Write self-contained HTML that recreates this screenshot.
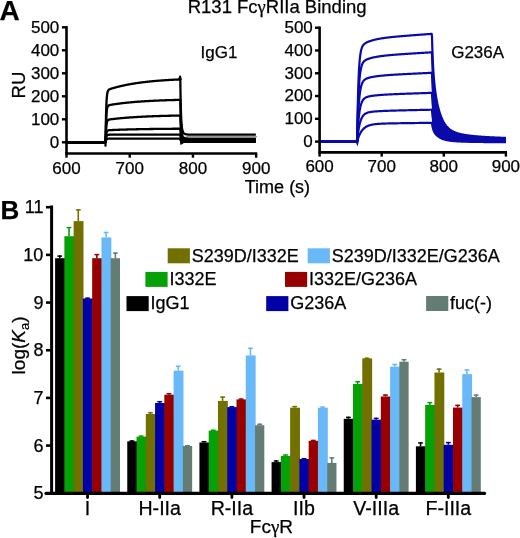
<!DOCTYPE html>
<html><head><meta charset="utf-8"><style>
html,body{margin:0;padding:0;background:#fff;}
svg{display:block;will-change:transform;}
text{font-family:"Liberation Sans", sans-serif;stroke:#000;stroke-width:0.25px;}
</style></head><body>
<svg width="520" height="538" viewBox="0 0 520 538">
<rect width="520" height="538" fill="#fff"/>

<text x="-0.5" y="19.6" font-size="28" font-weight="bold">A</text>
<text x="0.4" y="218.5" font-size="26" font-weight="bold">B</text>
<g font-size="17">
<text x="187.7" y="13.4" font-size="18.5">R131 Fc<tspan font-family="Liberation Serif">&#947;</tspan>RIIa Binding</text>
<text x="244.8" y="192.6" font-size="18">Time (s)</text>
<text x="200.6" y="57.5">IgG1</text>
<text x="451.2" y="57.6">G236A</text>
<text transform="translate(25,85) rotate(-90)" text-anchor="middle" font-size="18.6">RU</text>
<text x="59.3" y="147.6" text-anchor="end">0</text>
<text x="59.3" y="124.6" text-anchor="end">100</text>
<text x="59.3" y="101.6" text-anchor="end">200</text>
<text x="59.3" y="78.6" text-anchor="end">300</text>
<text x="59.3" y="55.6" text-anchor="end">400</text>
<text x="59.3" y="32.6" text-anchor="end">500</text>
<text x="66.5" y="173.8" text-anchor="middle">600</text>
<text x="129.72" y="173.8" text-anchor="middle">700</text>
<text x="192.94" y="173.8" text-anchor="middle">800</text>
<text x="256.16" y="173.8" text-anchor="middle">900</text>
<text x="312.8" y="146.9" text-anchor="end">0</text>
<text x="312.8" y="124.12" text-anchor="end">100</text>
<text x="312.8" y="101.34" text-anchor="end">200</text>
<text x="312.8" y="78.56" text-anchor="end">300</text>
<text x="312.8" y="55.78" text-anchor="end">400</text>
<text x="312.8" y="33" text-anchor="end">500</text>
<text x="319.6" y="172.3" text-anchor="middle">600</text>
<text x="381.7" y="172.3" text-anchor="middle">700</text>
<text x="443.8" y="172.3" text-anchor="middle">800</text>
<text x="505.9" y="172.3" text-anchor="middle">900</text>
</g>
<path d="M66.5,142.3 L66.82,142.3 L67.13,142.3 L67.45,142.3 L67.76,142.3 L68.08,142.3 L68.4,142.3 L68.71,142.3 L69.03,142.3 L69.34,142.3 L69.66,142.3 L69.98,142.3 L70.29,142.3 L70.61,142.3 L70.93,142.3 L71.24,142.3 L71.56,142.3 L71.87,142.3 L72.19,142.3 L72.51,142.3 L72.82,142.3 L73.14,142.3 L73.45,142.3 L73.77,142.3 L74.09,142.3 L74.4,142.3 L74.72,142.3 L75.03,142.3 L75.35,142.3 L75.67,142.3 L75.98,142.3 L76.3,142.3 L76.62,142.3 L76.93,142.3 L77.25,142.3 L77.56,142.3 L77.88,142.3 L78.2,142.3 L78.51,142.3 L78.83,142.3 L79.14,142.3 L79.46,142.3 L79.78,142.3 L80.09,142.3 L80.41,142.3 L80.72,142.3 L81.04,142.3 L81.36,142.3 L81.67,142.3 L81.99,142.3 L82.31,142.3 L82.62,142.3 L82.94,142.3 L83.25,142.3 L83.57,142.3 L83.89,142.3 L84.2,142.3 L84.52,142.3 L84.83,142.3 L85.15,142.3 L85.47,142.3 L85.78,142.3 L86.1,142.3 L86.41,142.3 L86.73,142.3 L87.05,142.3 L87.36,142.3 L87.68,142.3 L87.99,142.3 L88.31,142.3 L88.63,142.3 L88.94,142.3 L89.26,142.3 L89.58,142.3 L89.89,142.3 L90.21,142.3 L90.52,142.3 L90.84,142.3 L91.16,142.3 L91.47,142.3 L91.79,142.3 L92.1,142.3 L92.42,142.3 L92.74,142.3 L93.05,142.3 L93.37,142.3 L93.68,142.3 L94,142.3 L94.32,142.3 L94.63,142.3 L94.95,142.3 L95.27,142.3 L95.58,142.3 L95.9,142.3 L96.21,142.3 L96.53,142.3 L96.85,142.3 L97.16,142.3 L97.48,142.3 L97.79,142.3 L98.11,142.3 L98.43,142.3 L98.74,142.3 L99.06,142.3 L99.37,142.3 L99.69,142.3 L100.01,142.3 L100.32,142.3 L100.64,142.3 L100.95,142.3 L101.27,142.3 L101.59,142.3 L101.9,142.3 L102.22,142.3 L102.54,142.3 L102.85,142.3 L103.17,142.3 L103.48,142.3 L103.8,142.3 L104.12,142.3 L104.43,142.3 L104.75,142.3 L105.06,142.3 L105.38,142.3 L105.7,132.87 L106.01,116.09 L106.33,105.87 L106.64,99.62 L106.96,95.79 L107.28,93.43 L107.59,91.95 L107.91,91.01 L108.23,90.4 L108.54,89.99 L108.86,89.71 L109.17,89.49 L109.49,89.32 L109.81,89.18 L110.12,89.05 L110.44,88.94 L110.75,88.83 L111.07,88.72 L111.39,88.62 L111.7,88.53 L112.02,88.43 L112.33,88.34 L112.65,88.24 L112.97,88.15 L113.28,88.06 L113.6,87.97 L113.91,87.87 L114.23,87.79 L114.55,87.7 L114.86,87.61 L115.18,87.52 L115.5,87.44 L115.81,87.35 L116.13,87.27 L116.44,87.18 L116.76,87.1 L117.08,87.02 L117.39,86.93 L117.71,86.85 L118.02,86.77 L118.34,86.69 L118.66,86.62 L118.97,86.54 L119.29,86.46 L119.6,86.38 L119.92,86.31 L120.24,86.23 L120.55,86.16 L120.87,86.08 L121.19,86.01 L121.5,85.94 L121.82,85.87 L122.13,85.79 L122.45,85.72 L122.77,85.65 L123.08,85.58 L123.4,85.51 L123.71,85.45 L124.03,85.38 L124.35,85.31 L124.66,85.25 L124.98,85.18 L125.29,85.11 L125.61,85.05 L125.93,84.99 L126.24,84.92 L126.56,84.86 L126.88,84.8 L127.19,84.74 L127.51,84.67 L127.82,84.61 L128.14,84.55 L128.46,84.49 L128.77,84.43 L129.09,84.38 L129.4,84.32 L129.72,84.26 L130.04,84.2 L130.35,84.15 L130.67,84.09 L130.98,84.04 L131.3,83.98 L131.62,83.93 L131.93,83.87 L132.25,83.82 L132.56,83.77 L132.88,83.71 L133.2,83.66 L133.51,83.61 L133.83,83.56 L134.15,83.51 L134.46,83.46 L134.78,83.41 L135.09,83.36 L135.41,83.31 L135.73,83.26 L136.04,83.21 L136.36,83.16 L136.67,83.12 L136.99,83.07 L137.31,83.02 L137.62,82.98 L137.94,82.93 L138.25,82.89 L138.57,82.84 L138.89,82.8 L139.2,82.76 L139.52,82.71 L139.84,82.67 L140.15,82.63 L140.47,82.58 L140.78,82.54 L141.1,82.5 L141.42,82.46 L141.73,82.42 L142.05,82.38 L142.36,82.34 L142.68,82.3 L143,82.26 L143.31,82.22 L143.63,82.18 L143.94,82.14 L144.26,82.1 L144.58,82.07 L144.89,82.03 L145.21,81.99 L145.52,81.96 L145.84,81.92 L146.16,81.88 L146.47,81.85 L146.79,81.81 L147.11,81.78 L147.42,81.74 L147.74,81.71 L148.05,81.67 L148.37,81.64 L148.69,81.61 L149,81.57 L149.32,81.54 L149.63,81.51 L149.95,81.48 L150.27,81.44 L150.58,81.41 L150.9,81.38 L151.21,81.35 L151.53,81.32 L151.85,81.29 L152.16,81.26 L152.48,81.23 L152.8,81.2 L153.11,81.17 L153.43,81.14 L153.74,81.11 L154.06,81.08 L154.38,81.05 L154.69,81.02 L155.01,81 L155.32,80.97 L155.64,80.94 L155.96,80.91 L156.27,80.89 L156.59,80.86 L156.9,80.83 L157.22,80.81 L157.54,80.78 L157.85,80.75 L158.17,80.73 L158.49,80.7 L158.8,80.68 L159.12,80.65 L159.43,80.63 L159.75,80.6 L160.07,80.58 L160.38,80.56 L160.7,80.53 L161.01,80.51 L161.33,80.49 L161.65,80.46 L161.96,80.44 L162.28,80.42 L162.59,80.39 L162.91,80.37 L163.23,80.35 L163.54,80.33 L163.86,80.31 L164.17,80.28 L164.49,80.26 L164.81,80.24 L165.12,80.22 L165.44,80.2 L165.76,80.18 L166.07,80.16 L166.39,80.14 L166.7,80.12 L167.02,80.1 L167.34,80.08 L167.65,80.06 L167.97,80.04 L168.28,80.02 L168.6,80 L168.92,79.98 L169.23,79.96 L169.55,79.95 L169.86,79.93 L170.18,79.91 L170.5,79.89 L170.81,79.87 L171.13,79.86 L171.45,79.84 L171.76,79.82 L172.08,79.8 L172.39,79.79 L172.71,79.77 L173.03,79.75 L173.34,79.74 L173.66,79.72 L173.97,79.7 L174.29,79.69 L174.61,79.67 L174.92,79.66 L175.24,79.64 L175.55,79.62 L175.87,79.61 L176.19,79.59 L176.5,79.58 L176.82,79.56 L177.13,79.55 L177.45,79.53 L177.77,79.52 L178.08,79.5 L178.4,79.49 L178.72,79.48 L179.03,79.46 L179.35,79.45 L179.66,79.43 L179.98,79.42 L180.3,79.41 L180.61,99.48 L180.93,111.89 L181.24,119.62 L181.56,124.48 L181.88,127.58 L182.19,129.59 L182.51,130.92 L182.82,131.82 L183.14,132.45 L183.46,132.9 L183.77,133.24 L184.09,133.49 L184.41,133.69 L184.72,133.85 L185.04,133.98 L185.35,134.09 L185.67,134.18 L185.99,134.26 L186.3,134.32 L186.62,134.38 L186.93,134.42 L187.25,134.46 L187.57,134.5 L187.88,134.53 L188.2,134.55 L188.51,134.58 L188.83,134.59 L189.15,134.61 L189.46,134.62 L189.78,134.64 L190.1,134.65 L190.41,134.66 L190.73,134.66 L191.04,134.67 L191.36,134.68 L191.68,134.68 L191.99,134.68 L192.31,134.69 L192.62,134.69 L192.94,134.69 L193.26,134.7 L193.57,134.7 L193.89,134.7 L194.2,134.7 L194.52,134.7 L194.84,134.7 L195.15,134.7 L195.47,134.71 L195.78,134.71 L196.1,134.71 L196.42,134.71 L196.73,134.71 L197.05,134.71 L197.37,134.71 L197.68,134.71 L198,134.71 L198.31,134.71 L198.63,134.71 L198.95,134.71 L199.26,134.71 L199.58,134.71 L199.89,134.71 L200.21,134.71 L200.53,134.71 L200.84,134.71 L201.16,134.71 L201.47,134.71 L201.79,134.71 L202.11,134.71 L202.42,134.71 L202.74,134.71 L203.06,134.71 L203.37,134.71 L203.69,134.71 L204,134.71 L204.32,134.71 L204.64,134.71 L204.95,134.71 L205.27,134.71 L205.58,134.71 L205.9,134.71 L206.22,134.71 L206.53,134.71 L206.85,134.71 L207.16,134.71 L207.48,134.71 L207.8,134.71 L208.11,134.71 L208.43,134.71 L208.75,134.71 L209.06,134.71 L209.38,134.71 L209.69,134.71 L210.01,134.71 L210.33,134.71 L210.64,134.71 L210.96,134.71 L211.27,134.71 L211.59,134.71 L211.91,134.71 L212.22,134.71 L212.54,134.71 L212.85,134.71 L213.17,134.71 L213.49,134.71 L213.8,134.71 L214.12,134.71 L214.43,134.71 L214.75,134.71 L215.07,134.71 L215.38,134.71 L215.7,134.71 L216.02,134.71 L216.33,134.71 L216.65,134.71 L216.96,134.71 L217.28,134.71 L217.6,134.71 L217.91,134.71 L218.23,134.71 L218.54,134.71 L218.86,134.71 L219.18,134.71 L219.49,134.71 L219.81,134.71 L220.12,134.71 L220.44,134.71 L220.76,134.71 L221.07,134.71 L221.39,134.71 L221.71,134.71 L222.02,134.71 L222.34,134.71 L222.65,134.71 L222.97,134.71 L223.29,134.71 L223.6,134.71 L223.92,134.71 L224.23,134.71 L224.55,134.71 L224.87,134.71 L225.18,134.71 L225.5,134.71 L225.81,134.71 L226.13,134.71 L226.45,134.71 L226.76,134.71 L227.08,134.71 L227.39,134.71 L227.71,134.71 L228.03,134.71 L228.34,134.71 L228.66,134.71 L228.98,134.71 L229.29,134.71 L229.61,134.71 L229.92,134.71 L230.24,134.71 L230.56,134.71 L230.87,134.71 L231.19,134.71 L231.5,134.71 L231.82,134.71 L232.14,134.71 L232.45,134.71 L232.77,134.71 L233.08,134.71 L233.4,134.71 L233.72,134.71 L234.03,134.71 L234.35,134.71 L234.67,134.71 L234.98,134.71 L235.3,134.71 L235.61,134.71 L235.93,134.71 L236.25,134.71 L236.56,134.71 L236.88,134.71 L237.19,134.71 L237.51,134.71 L237.83,134.71 L238.14,134.71 L238.46,134.71 L238.77,134.71 L239.09,134.71 L239.41,134.71 L239.72,134.71 L240.04,134.71 L240.35,134.71 L240.67,134.71 L240.99,134.71 L241.3,134.71 L241.62,134.71 L241.94,134.71 L242.25,134.71 L242.57,134.71 L242.88,134.71 L243.2,134.71 L243.52,134.71 L243.83,134.71 L244.15,134.71 L244.46,134.71 L244.78,134.71 L245.1,134.71 L245.41,134.71 L245.73,134.71 L246.04,134.71 L246.36,134.71 L246.68,134.71 L246.99,134.71 L247.31,134.71 L247.63,134.71 L247.94,134.71 L248.26,134.71 L248.57,134.71 L248.89,134.71 L249.21,134.71 L249.52,134.71 L249.84,134.71 L250.15,134.71 L250.47,134.71 L250.79,134.71 L251.1,134.71 L251.42,134.71 L251.73,134.71 L252.05,134.71 L252.37,134.71 L252.68,134.71 L253,134.71 L253.32,134.71 L253.63,134.71 L253.95,134.71 L254.26,134.71 L254.58,134.71 L254.9,134.71 L255.21,134.71 L255.53,134.71 L255.84,134.71" fill="none" stroke="#000" stroke-width="2.3" stroke-linejoin="round"/>
<path d="M66.5,142.3 L66.82,142.3 L67.13,142.3 L67.45,142.3 L67.76,142.3 L68.08,142.3 L68.4,142.3 L68.71,142.3 L69.03,142.3 L69.34,142.3 L69.66,142.3 L69.98,142.3 L70.29,142.3 L70.61,142.3 L70.93,142.3 L71.24,142.3 L71.56,142.3 L71.87,142.3 L72.19,142.3 L72.51,142.3 L72.82,142.3 L73.14,142.3 L73.45,142.3 L73.77,142.3 L74.09,142.3 L74.4,142.3 L74.72,142.3 L75.03,142.3 L75.35,142.3 L75.67,142.3 L75.98,142.3 L76.3,142.3 L76.62,142.3 L76.93,142.3 L77.25,142.3 L77.56,142.3 L77.88,142.3 L78.2,142.3 L78.51,142.3 L78.83,142.3 L79.14,142.3 L79.46,142.3 L79.78,142.3 L80.09,142.3 L80.41,142.3 L80.72,142.3 L81.04,142.3 L81.36,142.3 L81.67,142.3 L81.99,142.3 L82.31,142.3 L82.62,142.3 L82.94,142.3 L83.25,142.3 L83.57,142.3 L83.89,142.3 L84.2,142.3 L84.52,142.3 L84.83,142.3 L85.15,142.3 L85.47,142.3 L85.78,142.3 L86.1,142.3 L86.41,142.3 L86.73,142.3 L87.05,142.3 L87.36,142.3 L87.68,142.3 L87.99,142.3 L88.31,142.3 L88.63,142.3 L88.94,142.3 L89.26,142.3 L89.58,142.3 L89.89,142.3 L90.21,142.3 L90.52,142.3 L90.84,142.3 L91.16,142.3 L91.47,142.3 L91.79,142.3 L92.1,142.3 L92.42,142.3 L92.74,142.3 L93.05,142.3 L93.37,142.3 L93.68,142.3 L94,142.3 L94.32,142.3 L94.63,142.3 L94.95,142.3 L95.27,142.3 L95.58,142.3 L95.9,142.3 L96.21,142.3 L96.53,142.3 L96.85,142.3 L97.16,142.3 L97.48,142.3 L97.79,142.3 L98.11,142.3 L98.43,142.3 L98.74,142.3 L99.06,142.3 L99.37,142.3 L99.69,142.3 L100.01,142.3 L100.32,142.3 L100.64,142.3 L100.95,142.3 L101.27,142.3 L101.59,142.3 L101.9,142.3 L102.22,142.3 L102.54,142.3 L102.85,142.3 L103.17,142.3 L103.48,142.3 L103.8,142.3 L104.12,142.3 L104.43,142.3 L104.75,142.3 L105.06,142.3 L105.38,142.3 L105.7,135.65 L106.01,123.81 L106.33,116.6 L106.64,112.21 L106.96,109.52 L107.28,107.87 L107.59,106.85 L107.91,106.2 L108.23,105.79 L108.54,105.52 L108.86,105.34 L109.17,105.2 L109.49,105.1 L109.81,105.02 L110.12,104.95 L110.44,104.88 L110.75,104.82 L111.07,104.77 L111.39,104.72 L111.7,104.66 L112.02,104.61 L112.33,104.56 L112.65,104.51 L112.97,104.46 L113.28,104.42 L113.6,104.37 L113.91,104.32 L114.23,104.27 L114.55,104.23 L114.86,104.18 L115.18,104.13 L115.5,104.09 L115.81,104.04 L116.13,104 L116.44,103.95 L116.76,103.91 L117.08,103.87 L117.39,103.82 L117.71,103.78 L118.02,103.74 L118.34,103.7 L118.66,103.66 L118.97,103.61 L119.29,103.57 L119.6,103.53 L119.92,103.49 L120.24,103.45 L120.55,103.41 L120.87,103.37 L121.19,103.34 L121.5,103.3 L121.82,103.26 L122.13,103.22 L122.45,103.18 L122.77,103.15 L123.08,103.11 L123.4,103.07 L123.71,103.04 L124.03,103 L124.35,102.97 L124.66,102.93 L124.98,102.9 L125.29,102.86 L125.61,102.83 L125.93,102.8 L126.24,102.76 L126.56,102.73 L126.88,102.7 L127.19,102.66 L127.51,102.63 L127.82,102.6 L128.14,102.57 L128.46,102.54 L128.77,102.51 L129.09,102.47 L129.4,102.44 L129.72,102.41 L130.04,102.38 L130.35,102.35 L130.67,102.32 L130.98,102.29 L131.3,102.27 L131.62,102.24 L131.93,102.21 L132.25,102.18 L132.56,102.15 L132.88,102.12 L133.2,102.1 L133.51,102.07 L133.83,102.04 L134.15,102.02 L134.46,101.99 L134.78,101.96 L135.09,101.94 L135.41,101.91 L135.73,101.89 L136.04,101.86 L136.36,101.84 L136.67,101.81 L136.99,101.79 L137.31,101.76 L137.62,101.74 L137.94,101.71 L138.25,101.69 L138.57,101.67 L138.89,101.64 L139.2,101.62 L139.52,101.6 L139.84,101.57 L140.15,101.55 L140.47,101.53 L140.78,101.51 L141.1,101.49 L141.42,101.46 L141.73,101.44 L142.05,101.42 L142.36,101.4 L142.68,101.38 L143,101.36 L143.31,101.34 L143.63,101.32 L143.94,101.3 L144.26,101.28 L144.58,101.26 L144.89,101.24 L145.21,101.22 L145.52,101.2 L145.84,101.18 L146.16,101.16 L146.47,101.14 L146.79,101.12 L147.11,101.1 L147.42,101.09 L147.74,101.07 L148.05,101.05 L148.37,101.03 L148.69,101.01 L149,101 L149.32,100.98 L149.63,100.96 L149.95,100.95 L150.27,100.93 L150.58,100.91 L150.9,100.89 L151.21,100.88 L151.53,100.86 L151.85,100.85 L152.16,100.83 L152.48,100.81 L152.8,100.8 L153.11,100.78 L153.43,100.77 L153.74,100.75 L154.06,100.74 L154.38,100.72 L154.69,100.71 L155.01,100.69 L155.32,100.68 L155.64,100.66 L155.96,100.65 L156.27,100.63 L156.59,100.62 L156.9,100.61 L157.22,100.59 L157.54,100.58 L157.85,100.57 L158.17,100.55 L158.49,100.54 L158.8,100.53 L159.12,100.51 L159.43,100.5 L159.75,100.49 L160.07,100.47 L160.38,100.46 L160.7,100.45 L161.01,100.44 L161.33,100.42 L161.65,100.41 L161.96,100.4 L162.28,100.39 L162.59,100.38 L162.91,100.36 L163.23,100.35 L163.54,100.34 L163.86,100.33 L164.17,100.32 L164.49,100.31 L164.81,100.29 L165.12,100.28 L165.44,100.27 L165.76,100.26 L166.07,100.25 L166.39,100.24 L166.7,100.23 L167.02,100.22 L167.34,100.21 L167.65,100.2 L167.97,100.19 L168.28,100.18 L168.6,100.17 L168.92,100.16 L169.23,100.15 L169.55,100.14 L169.86,100.13 L170.18,100.12 L170.5,100.11 L170.81,100.1 L171.13,100.09 L171.45,100.08 L171.76,100.07 L172.08,100.06 L172.39,100.06 L172.71,100.05 L173.03,100.04 L173.34,100.03 L173.66,100.02 L173.97,100.01 L174.29,100 L174.61,99.99 L174.92,99.99 L175.24,99.98 L175.55,99.97 L175.87,99.96 L176.19,99.95 L176.5,99.95 L176.82,99.94 L177.13,99.93 L177.45,99.92 L177.77,99.91 L178.08,99.91 L178.4,99.9 L178.72,99.89 L179.03,99.88 L179.35,99.88 L179.66,99.87 L179.98,99.86 L180.3,99.85 L180.61,113.93 L180.93,122.62 L181.24,128.04 L181.56,131.45 L181.88,133.62 L182.19,135.03 L182.51,135.96 L182.82,136.59 L183.14,137.04 L183.46,137.35 L183.77,137.59 L184.09,137.77 L184.41,137.91 L184.72,138.02 L185.04,138.11 L185.35,138.19 L185.67,138.25 L185.99,138.3 L186.3,138.35 L186.62,138.39 L186.93,138.42 L187.25,138.45 L187.57,138.47 L187.88,138.49 L188.2,138.51 L188.51,138.53 L188.83,138.54 L189.15,138.55 L189.46,138.56 L189.78,138.57 L190.1,138.58 L190.41,138.58 L190.73,138.59 L191.04,138.59 L191.36,138.6 L191.68,138.6 L191.99,138.6 L192.31,138.6 L192.62,138.61 L192.94,138.61 L193.26,138.61 L193.57,138.61 L193.89,138.61 L194.2,138.61 L194.52,138.61 L194.84,138.62 L195.15,138.62 L195.47,138.62 L195.78,138.62 L196.1,138.62 L196.42,138.62 L196.73,138.62 L197.05,138.62 L197.37,138.62 L197.68,138.62 L198,138.62 L198.31,138.62 L198.63,138.62 L198.95,138.62 L199.26,138.62 L199.58,138.62 L199.89,138.62 L200.21,138.62 L200.53,138.62 L200.84,138.62 L201.16,138.62 L201.47,138.62 L201.79,138.62 L202.11,138.62 L202.42,138.62 L202.74,138.62 L203.06,138.62 L203.37,138.62 L203.69,138.62 L204,138.62 L204.32,138.62 L204.64,138.62 L204.95,138.62 L205.27,138.62 L205.58,138.62 L205.9,138.62 L206.22,138.62 L206.53,138.62 L206.85,138.62 L207.16,138.62 L207.48,138.62 L207.8,138.62 L208.11,138.62 L208.43,138.62 L208.75,138.62 L209.06,138.62 L209.38,138.62 L209.69,138.62 L210.01,138.62 L210.33,138.62 L210.64,138.62 L210.96,138.62 L211.27,138.62 L211.59,138.62 L211.91,138.62 L212.22,138.62 L212.54,138.62 L212.85,138.62 L213.17,138.62 L213.49,138.62 L213.8,138.62 L214.12,138.62 L214.43,138.62 L214.75,138.62 L215.07,138.62 L215.38,138.62 L215.7,138.62 L216.02,138.62 L216.33,138.62 L216.65,138.62 L216.96,138.62 L217.28,138.62 L217.6,138.62 L217.91,138.62 L218.23,138.62 L218.54,138.62 L218.86,138.62 L219.18,138.62 L219.49,138.62 L219.81,138.62 L220.12,138.62 L220.44,138.62 L220.76,138.62 L221.07,138.62 L221.39,138.62 L221.71,138.62 L222.02,138.62 L222.34,138.62 L222.65,138.62 L222.97,138.62 L223.29,138.62 L223.6,138.62 L223.92,138.62 L224.23,138.62 L224.55,138.62 L224.87,138.62 L225.18,138.62 L225.5,138.62 L225.81,138.62 L226.13,138.62 L226.45,138.62 L226.76,138.62 L227.08,138.62 L227.39,138.62 L227.71,138.62 L228.03,138.62 L228.34,138.62 L228.66,138.62 L228.98,138.62 L229.29,138.62 L229.61,138.62 L229.92,138.62 L230.24,138.62 L230.56,138.62 L230.87,138.62 L231.19,138.62 L231.5,138.62 L231.82,138.62 L232.14,138.62 L232.45,138.62 L232.77,138.62 L233.08,138.62 L233.4,138.62 L233.72,138.62 L234.03,138.62 L234.35,138.62 L234.67,138.62 L234.98,138.62 L235.3,138.62 L235.61,138.62 L235.93,138.62 L236.25,138.62 L236.56,138.62 L236.88,138.62 L237.19,138.62 L237.51,138.62 L237.83,138.62 L238.14,138.62 L238.46,138.62 L238.77,138.62 L239.09,138.62 L239.41,138.62 L239.72,138.62 L240.04,138.62 L240.35,138.62 L240.67,138.62 L240.99,138.62 L241.3,138.62 L241.62,138.62 L241.94,138.62 L242.25,138.62 L242.57,138.62 L242.88,138.62 L243.2,138.62 L243.52,138.62 L243.83,138.62 L244.15,138.62 L244.46,138.62 L244.78,138.62 L245.1,138.62 L245.41,138.62 L245.73,138.62 L246.04,138.62 L246.36,138.62 L246.68,138.62 L246.99,138.62 L247.31,138.62 L247.63,138.62 L247.94,138.62 L248.26,138.62 L248.57,138.62 L248.89,138.62 L249.21,138.62 L249.52,138.62 L249.84,138.62 L250.15,138.62 L250.47,138.62 L250.79,138.62 L251.1,138.62 L251.42,138.62 L251.73,138.62 L252.05,138.62 L252.37,138.62 L252.68,138.62 L253,138.62 L253.32,138.62 L253.63,138.62 L253.95,138.62 L254.26,138.62 L254.58,138.62 L254.9,138.62 L255.21,138.62 L255.53,138.62 L255.84,138.62" fill="none" stroke="#000" stroke-width="2.3" stroke-linejoin="round"/>
<path d="M66.5,142.3 L66.82,142.3 L67.13,142.3 L67.45,142.3 L67.76,142.3 L68.08,142.3 L68.4,142.3 L68.71,142.3 L69.03,142.3 L69.34,142.3 L69.66,142.3 L69.98,142.3 L70.29,142.3 L70.61,142.3 L70.93,142.3 L71.24,142.3 L71.56,142.3 L71.87,142.3 L72.19,142.3 L72.51,142.3 L72.82,142.3 L73.14,142.3 L73.45,142.3 L73.77,142.3 L74.09,142.3 L74.4,142.3 L74.72,142.3 L75.03,142.3 L75.35,142.3 L75.67,142.3 L75.98,142.3 L76.3,142.3 L76.62,142.3 L76.93,142.3 L77.25,142.3 L77.56,142.3 L77.88,142.3 L78.2,142.3 L78.51,142.3 L78.83,142.3 L79.14,142.3 L79.46,142.3 L79.78,142.3 L80.09,142.3 L80.41,142.3 L80.72,142.3 L81.04,142.3 L81.36,142.3 L81.67,142.3 L81.99,142.3 L82.31,142.3 L82.62,142.3 L82.94,142.3 L83.25,142.3 L83.57,142.3 L83.89,142.3 L84.2,142.3 L84.52,142.3 L84.83,142.3 L85.15,142.3 L85.47,142.3 L85.78,142.3 L86.1,142.3 L86.41,142.3 L86.73,142.3 L87.05,142.3 L87.36,142.3 L87.68,142.3 L87.99,142.3 L88.31,142.3 L88.63,142.3 L88.94,142.3 L89.26,142.3 L89.58,142.3 L89.89,142.3 L90.21,142.3 L90.52,142.3 L90.84,142.3 L91.16,142.3 L91.47,142.3 L91.79,142.3 L92.1,142.3 L92.42,142.3 L92.74,142.3 L93.05,142.3 L93.37,142.3 L93.68,142.3 L94,142.3 L94.32,142.3 L94.63,142.3 L94.95,142.3 L95.27,142.3 L95.58,142.3 L95.9,142.3 L96.21,142.3 L96.53,142.3 L96.85,142.3 L97.16,142.3 L97.48,142.3 L97.79,142.3 L98.11,142.3 L98.43,142.3 L98.74,142.3 L99.06,142.3 L99.37,142.3 L99.69,142.3 L100.01,142.3 L100.32,142.3 L100.64,142.3 L100.95,142.3 L101.27,142.3 L101.59,142.3 L101.9,142.3 L102.22,142.3 L102.54,142.3 L102.85,142.3 L103.17,142.3 L103.48,142.3 L103.8,142.3 L104.12,142.3 L104.43,142.3 L104.75,142.3 L105.06,142.3 L105.38,142.3 L105.7,138.24 L106.01,131.01 L106.33,126.6 L106.64,123.91 L106.96,122.27 L107.28,121.25 L107.59,120.62 L107.91,120.22 L108.23,119.96 L108.54,119.78 L108.86,119.66 L109.17,119.57 L109.49,119.5 L109.81,119.44 L110.12,119.39 L110.44,119.35 L110.75,119.3 L111.07,119.26 L111.39,119.22 L111.7,119.18 L112.02,119.14 L112.33,119.1 L112.65,119.07 L112.97,119.03 L113.28,118.99 L113.6,118.96 L113.91,118.92 L114.23,118.88 L114.55,118.85 L114.86,118.81 L115.18,118.78 L115.5,118.74 L115.81,118.71 L116.13,118.68 L116.44,118.64 L116.76,118.61 L117.08,118.58 L117.39,118.54 L117.71,118.51 L118.02,118.48 L118.34,118.45 L118.66,118.42 L118.97,118.38 L119.29,118.35 L119.6,118.32 L119.92,118.29 L120.24,118.26 L120.55,118.23 L120.87,118.2 L121.19,118.17 L121.5,118.14 L121.82,118.12 L122.13,118.09 L122.45,118.06 L122.77,118.03 L123.08,118 L123.4,117.98 L123.71,117.95 L124.03,117.92 L124.35,117.89 L124.66,117.87 L124.98,117.84 L125.29,117.82 L125.61,117.79 L125.93,117.76 L126.24,117.74 L126.56,117.71 L126.88,117.69 L127.19,117.66 L127.51,117.64 L127.82,117.62 L128.14,117.59 L128.46,117.57 L128.77,117.54 L129.09,117.52 L129.4,117.5 L129.72,117.47 L130.04,117.45 L130.35,117.43 L130.67,117.41 L130.98,117.38 L131.3,117.36 L131.62,117.34 L131.93,117.32 L132.25,117.3 L132.56,117.28 L132.88,117.26 L133.2,117.23 L133.51,117.21 L133.83,117.19 L134.15,117.17 L134.46,117.15 L134.78,117.13 L135.09,117.11 L135.41,117.09 L135.73,117.07 L136.04,117.05 L136.36,117.04 L136.67,117.02 L136.99,117 L137.31,116.98 L137.62,116.96 L137.94,116.94 L138.25,116.93 L138.57,116.91 L138.89,116.89 L139.2,116.87 L139.52,116.85 L139.84,116.84 L140.15,116.82 L140.47,116.8 L140.78,116.79 L141.1,116.77 L141.42,116.75 L141.73,116.74 L142.05,116.72 L142.36,116.7 L142.68,116.69 L143,116.67 L143.31,116.66 L143.63,116.64 L143.94,116.63 L144.26,116.61 L144.58,116.6 L144.89,116.58 L145.21,116.57 L145.52,116.55 L145.84,116.54 L146.16,116.52 L146.47,116.51 L146.79,116.49 L147.11,116.48 L147.42,116.47 L147.74,116.45 L148.05,116.44 L148.37,116.43 L148.69,116.41 L149,116.4 L149.32,116.39 L149.63,116.37 L149.95,116.36 L150.27,116.35 L150.58,116.33 L150.9,116.32 L151.21,116.31 L151.53,116.3 L151.85,116.28 L152.16,116.27 L152.48,116.26 L152.8,116.25 L153.11,116.24 L153.43,116.23 L153.74,116.21 L154.06,116.2 L154.38,116.19 L154.69,116.18 L155.01,116.17 L155.32,116.16 L155.64,116.15 L155.96,116.14 L156.27,116.12 L156.59,116.11 L156.9,116.1 L157.22,116.09 L157.54,116.08 L157.85,116.07 L158.17,116.06 L158.49,116.05 L158.8,116.04 L159.12,116.03 L159.43,116.02 L159.75,116.01 L160.07,116 L160.38,115.99 L160.7,115.98 L161.01,115.97 L161.33,115.96 L161.65,115.96 L161.96,115.95 L162.28,115.94 L162.59,115.93 L162.91,115.92 L163.23,115.91 L163.54,115.9 L163.86,115.89 L164.17,115.88 L164.49,115.88 L164.81,115.87 L165.12,115.86 L165.44,115.85 L165.76,115.84 L166.07,115.83 L166.39,115.83 L166.7,115.82 L167.02,115.81 L167.34,115.8 L167.65,115.79 L167.97,115.79 L168.28,115.78 L168.6,115.77 L168.92,115.76 L169.23,115.76 L169.55,115.75 L169.86,115.74 L170.18,115.73 L170.5,115.73 L170.81,115.72 L171.13,115.71 L171.45,115.71 L171.76,115.7 L172.08,115.69 L172.39,115.68 L172.71,115.68 L173.03,115.67 L173.34,115.66 L173.66,115.66 L173.97,115.65 L174.29,115.65 L174.61,115.64 L174.92,115.63 L175.24,115.63 L175.55,115.62 L175.87,115.61 L176.19,115.61 L176.5,115.6 L176.82,115.6 L177.13,115.59 L177.45,115.58 L177.77,115.58 L178.08,115.57 L178.4,115.57 L178.72,115.56 L179.03,115.55 L179.35,115.55 L179.66,115.54 L179.98,115.54 L180.3,115.53 L180.61,124.33 L180.93,129.77 L181.24,133.16 L181.56,135.29 L181.88,136.65 L182.19,137.53 L182.51,138.11 L182.82,138.5 L183.14,138.78 L183.46,138.98 L183.77,139.12 L184.09,139.24 L184.41,139.32 L184.72,139.39 L185.04,139.45 L185.35,139.5 L185.67,139.54 L185.99,139.57 L186.3,139.6 L186.62,139.62 L186.93,139.64 L187.25,139.66 L187.57,139.68 L187.88,139.69 L188.2,139.7 L188.51,139.71 L188.83,139.72 L189.15,139.73 L189.46,139.73 L189.78,139.74 L190.1,139.74 L190.41,139.75 L190.73,139.75 L191.04,139.75 L191.36,139.75 L191.68,139.76 L191.99,139.76 L192.31,139.76 L192.62,139.76 L192.94,139.76 L193.26,139.76 L193.57,139.76 L193.89,139.77 L194.2,139.77 L194.52,139.77 L194.84,139.77 L195.15,139.77 L195.47,139.77 L195.78,139.77 L196.1,139.77 L196.42,139.77 L196.73,139.77 L197.05,139.77 L197.37,139.77 L197.68,139.77 L198,139.77 L198.31,139.77 L198.63,139.77 L198.95,139.77 L199.26,139.77 L199.58,139.77 L199.89,139.77 L200.21,139.77 L200.53,139.77 L200.84,139.77 L201.16,139.77 L201.47,139.77 L201.79,139.77 L202.11,139.77 L202.42,139.77 L202.74,139.77 L203.06,139.77 L203.37,139.77 L203.69,139.77 L204,139.77 L204.32,139.77 L204.64,139.77 L204.95,139.77 L205.27,139.77 L205.58,139.77 L205.9,139.77 L206.22,139.77 L206.53,139.77 L206.85,139.77 L207.16,139.77 L207.48,139.77 L207.8,139.77 L208.11,139.77 L208.43,139.77 L208.75,139.77 L209.06,139.77 L209.38,139.77 L209.69,139.77 L210.01,139.77 L210.33,139.77 L210.64,139.77 L210.96,139.77 L211.27,139.77 L211.59,139.77 L211.91,139.77 L212.22,139.77 L212.54,139.77 L212.85,139.77 L213.17,139.77 L213.49,139.77 L213.8,139.77 L214.12,139.77 L214.43,139.77 L214.75,139.77 L215.07,139.77 L215.38,139.77 L215.7,139.77 L216.02,139.77 L216.33,139.77 L216.65,139.77 L216.96,139.77 L217.28,139.77 L217.6,139.77 L217.91,139.77 L218.23,139.77 L218.54,139.77 L218.86,139.77 L219.18,139.77 L219.49,139.77 L219.81,139.77 L220.12,139.77 L220.44,139.77 L220.76,139.77 L221.07,139.77 L221.39,139.77 L221.71,139.77 L222.02,139.77 L222.34,139.77 L222.65,139.77 L222.97,139.77 L223.29,139.77 L223.6,139.77 L223.92,139.77 L224.23,139.77 L224.55,139.77 L224.87,139.77 L225.18,139.77 L225.5,139.77 L225.81,139.77 L226.13,139.77 L226.45,139.77 L226.76,139.77 L227.08,139.77 L227.39,139.77 L227.71,139.77 L228.03,139.77 L228.34,139.77 L228.66,139.77 L228.98,139.77 L229.29,139.77 L229.61,139.77 L229.92,139.77 L230.24,139.77 L230.56,139.77 L230.87,139.77 L231.19,139.77 L231.5,139.77 L231.82,139.77 L232.14,139.77 L232.45,139.77 L232.77,139.77 L233.08,139.77 L233.4,139.77 L233.72,139.77 L234.03,139.77 L234.35,139.77 L234.67,139.77 L234.98,139.77 L235.3,139.77 L235.61,139.77 L235.93,139.77 L236.25,139.77 L236.56,139.77 L236.88,139.77 L237.19,139.77 L237.51,139.77 L237.83,139.77 L238.14,139.77 L238.46,139.77 L238.77,139.77 L239.09,139.77 L239.41,139.77 L239.72,139.77 L240.04,139.77 L240.35,139.77 L240.67,139.77 L240.99,139.77 L241.3,139.77 L241.62,139.77 L241.94,139.77 L242.25,139.77 L242.57,139.77 L242.88,139.77 L243.2,139.77 L243.52,139.77 L243.83,139.77 L244.15,139.77 L244.46,139.77 L244.78,139.77 L245.1,139.77 L245.41,139.77 L245.73,139.77 L246.04,139.77 L246.36,139.77 L246.68,139.77 L246.99,139.77 L247.31,139.77 L247.63,139.77 L247.94,139.77 L248.26,139.77 L248.57,139.77 L248.89,139.77 L249.21,139.77 L249.52,139.77 L249.84,139.77 L250.15,139.77 L250.47,139.77 L250.79,139.77 L251.1,139.77 L251.42,139.77 L251.73,139.77 L252.05,139.77 L252.37,139.77 L252.68,139.77 L253,139.77 L253.32,139.77 L253.63,139.77 L253.95,139.77 L254.26,139.77 L254.58,139.77 L254.9,139.77 L255.21,139.77 L255.53,139.77 L255.84,139.77" fill="none" stroke="#000" stroke-width="2.3" stroke-linejoin="round"/>
<path d="M66.5,142.3 L66.82,142.3 L67.13,142.3 L67.45,142.3 L67.76,142.3 L68.08,142.3 L68.4,142.3 L68.71,142.3 L69.03,142.3 L69.34,142.3 L69.66,142.3 L69.98,142.3 L70.29,142.3 L70.61,142.3 L70.93,142.3 L71.24,142.3 L71.56,142.3 L71.87,142.3 L72.19,142.3 L72.51,142.3 L72.82,142.3 L73.14,142.3 L73.45,142.3 L73.77,142.3 L74.09,142.3 L74.4,142.3 L74.72,142.3 L75.03,142.3 L75.35,142.3 L75.67,142.3 L75.98,142.3 L76.3,142.3 L76.62,142.3 L76.93,142.3 L77.25,142.3 L77.56,142.3 L77.88,142.3 L78.2,142.3 L78.51,142.3 L78.83,142.3 L79.14,142.3 L79.46,142.3 L79.78,142.3 L80.09,142.3 L80.41,142.3 L80.72,142.3 L81.04,142.3 L81.36,142.3 L81.67,142.3 L81.99,142.3 L82.31,142.3 L82.62,142.3 L82.94,142.3 L83.25,142.3 L83.57,142.3 L83.89,142.3 L84.2,142.3 L84.52,142.3 L84.83,142.3 L85.15,142.3 L85.47,142.3 L85.78,142.3 L86.1,142.3 L86.41,142.3 L86.73,142.3 L87.05,142.3 L87.36,142.3 L87.68,142.3 L87.99,142.3 L88.31,142.3 L88.63,142.3 L88.94,142.3 L89.26,142.3 L89.58,142.3 L89.89,142.3 L90.21,142.3 L90.52,142.3 L90.84,142.3 L91.16,142.3 L91.47,142.3 L91.79,142.3 L92.1,142.3 L92.42,142.3 L92.74,142.3 L93.05,142.3 L93.37,142.3 L93.68,142.3 L94,142.3 L94.32,142.3 L94.63,142.3 L94.95,142.3 L95.27,142.3 L95.58,142.3 L95.9,142.3 L96.21,142.3 L96.53,142.3 L96.85,142.3 L97.16,142.3 L97.48,142.3 L97.79,142.3 L98.11,142.3 L98.43,142.3 L98.74,142.3 L99.06,142.3 L99.37,142.3 L99.69,142.3 L100.01,142.3 L100.32,142.3 L100.64,142.3 L100.95,142.3 L101.27,142.3 L101.59,142.3 L101.9,142.3 L102.22,142.3 L102.54,142.3 L102.85,142.3 L103.17,142.3 L103.48,142.3 L103.8,142.3 L104.12,142.3 L104.43,142.3 L104.75,142.3 L105.06,142.3 L105.38,142.3 L105.7,140.13 L106.01,136.26 L106.33,133.9 L106.64,132.47 L106.96,131.59 L107.28,131.06 L107.59,130.72 L107.91,130.52 L108.23,130.39 L108.54,130.3 L108.86,130.24 L109.17,130.2 L109.49,130.17 L109.81,130.15 L110.12,130.13 L110.44,130.11 L110.75,130.09 L111.07,130.08 L111.39,130.06 L111.7,130.05 L112.02,130.03 L112.33,130.02 L112.65,130 L112.97,129.99 L113.28,129.98 L113.6,129.96 L113.91,129.95 L114.23,129.94 L114.55,129.92 L114.86,129.91 L115.18,129.9 L115.5,129.89 L115.81,129.87 L116.13,129.86 L116.44,129.85 L116.76,129.84 L117.08,129.83 L117.39,129.81 L117.71,129.8 L118.02,129.79 L118.34,129.78 L118.66,129.77 L118.97,129.76 L119.29,129.75 L119.6,129.73 L119.92,129.72 L120.24,129.71 L120.55,129.7 L120.87,129.69 L121.19,129.68 L121.5,129.67 L121.82,129.66 L122.13,129.65 L122.45,129.64 L122.77,129.63 L123.08,129.62 L123.4,129.61 L123.71,129.6 L124.03,129.59 L124.35,129.58 L124.66,129.57 L124.98,129.56 L125.29,129.55 L125.61,129.54 L125.93,129.53 L126.24,129.52 L126.56,129.51 L126.88,129.5 L127.19,129.49 L127.51,129.49 L127.82,129.48 L128.14,129.47 L128.46,129.46 L128.77,129.45 L129.09,129.44 L129.4,129.43 L129.72,129.43 L130.04,129.42 L130.35,129.41 L130.67,129.4 L130.98,129.39 L131.3,129.38 L131.62,129.38 L131.93,129.37 L132.25,129.36 L132.56,129.35 L132.88,129.35 L133.2,129.34 L133.51,129.33 L133.83,129.32 L134.15,129.32 L134.46,129.31 L134.78,129.3 L135.09,129.29 L135.41,129.29 L135.73,129.28 L136.04,129.27 L136.36,129.27 L136.67,129.26 L136.99,129.25 L137.31,129.25 L137.62,129.24 L137.94,129.23 L138.25,129.23 L138.57,129.22 L138.89,129.21 L139.2,129.21 L139.52,129.2 L139.84,129.19 L140.15,129.19 L140.47,129.18 L140.78,129.18 L141.1,129.17 L141.42,129.16 L141.73,129.16 L142.05,129.15 L142.36,129.15 L142.68,129.14 L143,129.13 L143.31,129.13 L143.63,129.12 L143.94,129.12 L144.26,129.11 L144.58,129.11 L144.89,129.1 L145.21,129.1 L145.52,129.09 L145.84,129.08 L146.16,129.08 L146.47,129.07 L146.79,129.07 L147.11,129.06 L147.42,129.06 L147.74,129.05 L148.05,129.05 L148.37,129.04 L148.69,129.04 L149,129.03 L149.32,129.03 L149.63,129.02 L149.95,129.02 L150.27,129.02 L150.58,129.01 L150.9,129.01 L151.21,129 L151.53,129 L151.85,128.99 L152.16,128.99 L152.48,128.98 L152.8,128.98 L153.11,128.98 L153.43,128.97 L153.74,128.97 L154.06,128.96 L154.38,128.96 L154.69,128.95 L155.01,128.95 L155.32,128.95 L155.64,128.94 L155.96,128.94 L156.27,128.93 L156.59,128.93 L156.9,128.93 L157.22,128.92 L157.54,128.92 L157.85,128.92 L158.17,128.91 L158.49,128.91 L158.8,128.9 L159.12,128.9 L159.43,128.9 L159.75,128.89 L160.07,128.89 L160.38,128.89 L160.7,128.88 L161.01,128.88 L161.33,128.88 L161.65,128.87 L161.96,128.87 L162.28,128.87 L162.59,128.86 L162.91,128.86 L163.23,128.86 L163.54,128.85 L163.86,128.85 L164.17,128.85 L164.49,128.84 L164.81,128.84 L165.12,128.84 L165.44,128.83 L165.76,128.83 L166.07,128.83 L166.39,128.83 L166.7,128.82 L167.02,128.82 L167.34,128.82 L167.65,128.81 L167.97,128.81 L168.28,128.81 L168.6,128.81 L168.92,128.8 L169.23,128.8 L169.55,128.8 L169.86,128.79 L170.18,128.79 L170.5,128.79 L170.81,128.79 L171.13,128.78 L171.45,128.78 L171.76,128.78 L172.08,128.78 L172.39,128.77 L172.71,128.77 L173.03,128.77 L173.34,128.77 L173.66,128.76 L173.97,128.76 L174.29,128.76 L174.61,128.76 L174.92,128.76 L175.24,128.75 L175.55,128.75 L175.87,128.75 L176.19,128.75 L176.5,128.74 L176.82,128.74 L177.13,128.74 L177.45,128.74 L177.77,128.74 L178.08,128.73 L178.4,128.73 L178.72,128.73 L179.03,128.73 L179.35,128.73 L179.66,128.72 L179.98,128.72 L180.3,128.72 L180.61,133.06 L180.93,135.75 L181.24,137.42 L181.56,138.48 L181.88,139.15 L182.19,139.58 L182.51,139.87 L182.82,140.06 L183.14,140.2 L183.46,140.3 L183.77,140.37 L184.09,140.43 L184.41,140.47 L184.72,140.5 L185.04,140.53 L185.35,140.56 L185.67,140.58 L185.99,140.59 L186.3,140.61 L186.62,140.62 L186.93,140.63 L187.25,140.64 L187.57,140.64 L187.88,140.65 L188.2,140.66 L188.51,140.66 L188.83,140.66 L189.15,140.67 L189.46,140.67 L189.78,140.67 L190.1,140.68 L190.41,140.68 L190.73,140.68 L191.04,140.68 L191.36,140.68 L191.68,140.68 L191.99,140.68 L192.31,140.69 L192.62,140.69 L192.94,140.69 L193.26,140.69 L193.57,140.69 L193.89,140.69 L194.2,140.69 L194.52,140.69 L194.84,140.69 L195.15,140.69 L195.47,140.69 L195.78,140.69 L196.1,140.69 L196.42,140.69 L196.73,140.69 L197.05,140.69 L197.37,140.69 L197.68,140.69 L198,140.69 L198.31,140.69 L198.63,140.69 L198.95,140.69 L199.26,140.69 L199.58,140.69 L199.89,140.69 L200.21,140.69 L200.53,140.69 L200.84,140.69 L201.16,140.69 L201.47,140.69 L201.79,140.69 L202.11,140.69 L202.42,140.69 L202.74,140.69 L203.06,140.69 L203.37,140.69 L203.69,140.69 L204,140.69 L204.32,140.69 L204.64,140.69 L204.95,140.69 L205.27,140.69 L205.58,140.69 L205.9,140.69 L206.22,140.69 L206.53,140.69 L206.85,140.69 L207.16,140.69 L207.48,140.69 L207.8,140.69 L208.11,140.69 L208.43,140.69 L208.75,140.69 L209.06,140.69 L209.38,140.69 L209.69,140.69 L210.01,140.69 L210.33,140.69 L210.64,140.69 L210.96,140.69 L211.27,140.69 L211.59,140.69 L211.91,140.69 L212.22,140.69 L212.54,140.69 L212.85,140.69 L213.17,140.69 L213.49,140.69 L213.8,140.69 L214.12,140.69 L214.43,140.69 L214.75,140.69 L215.07,140.69 L215.38,140.69 L215.7,140.69 L216.02,140.69 L216.33,140.69 L216.65,140.69 L216.96,140.69 L217.28,140.69 L217.6,140.69 L217.91,140.69 L218.23,140.69 L218.54,140.69 L218.86,140.69 L219.18,140.69 L219.49,140.69 L219.81,140.69 L220.12,140.69 L220.44,140.69 L220.76,140.69 L221.07,140.69 L221.39,140.69 L221.71,140.69 L222.02,140.69 L222.34,140.69 L222.65,140.69 L222.97,140.69 L223.29,140.69 L223.6,140.69 L223.92,140.69 L224.23,140.69 L224.55,140.69 L224.87,140.69 L225.18,140.69 L225.5,140.69 L225.81,140.69 L226.13,140.69 L226.45,140.69 L226.76,140.69 L227.08,140.69 L227.39,140.69 L227.71,140.69 L228.03,140.69 L228.34,140.69 L228.66,140.69 L228.98,140.69 L229.29,140.69 L229.61,140.69 L229.92,140.69 L230.24,140.69 L230.56,140.69 L230.87,140.69 L231.19,140.69 L231.5,140.69 L231.82,140.69 L232.14,140.69 L232.45,140.69 L232.77,140.69 L233.08,140.69 L233.4,140.69 L233.72,140.69 L234.03,140.69 L234.35,140.69 L234.67,140.69 L234.98,140.69 L235.3,140.69 L235.61,140.69 L235.93,140.69 L236.25,140.69 L236.56,140.69 L236.88,140.69 L237.19,140.69 L237.51,140.69 L237.83,140.69 L238.14,140.69 L238.46,140.69 L238.77,140.69 L239.09,140.69 L239.41,140.69 L239.72,140.69 L240.04,140.69 L240.35,140.69 L240.67,140.69 L240.99,140.69 L241.3,140.69 L241.62,140.69 L241.94,140.69 L242.25,140.69 L242.57,140.69 L242.88,140.69 L243.2,140.69 L243.52,140.69 L243.83,140.69 L244.15,140.69 L244.46,140.69 L244.78,140.69 L245.1,140.69 L245.41,140.69 L245.73,140.69 L246.04,140.69 L246.36,140.69 L246.68,140.69 L246.99,140.69 L247.31,140.69 L247.63,140.69 L247.94,140.69 L248.26,140.69 L248.57,140.69 L248.89,140.69 L249.21,140.69 L249.52,140.69 L249.84,140.69 L250.15,140.69 L250.47,140.69 L250.79,140.69 L251.1,140.69 L251.42,140.69 L251.73,140.69 L252.05,140.69 L252.37,140.69 L252.68,140.69 L253,140.69 L253.32,140.69 L253.63,140.69 L253.95,140.69 L254.26,140.69 L254.58,140.69 L254.9,140.69 L255.21,140.69 L255.53,140.69 L255.84,140.69" fill="none" stroke="#000" stroke-width="2.3" stroke-linejoin="round"/>
<path d="M66.5,142.3 L66.82,142.3 L67.13,142.3 L67.45,142.3 L67.76,142.3 L68.08,142.3 L68.4,142.3 L68.71,142.3 L69.03,142.3 L69.34,142.3 L69.66,142.3 L69.98,142.3 L70.29,142.3 L70.61,142.3 L70.93,142.3 L71.24,142.3 L71.56,142.3 L71.87,142.3 L72.19,142.3 L72.51,142.3 L72.82,142.3 L73.14,142.3 L73.45,142.3 L73.77,142.3 L74.09,142.3 L74.4,142.3 L74.72,142.3 L75.03,142.3 L75.35,142.3 L75.67,142.3 L75.98,142.3 L76.3,142.3 L76.62,142.3 L76.93,142.3 L77.25,142.3 L77.56,142.3 L77.88,142.3 L78.2,142.3 L78.51,142.3 L78.83,142.3 L79.14,142.3 L79.46,142.3 L79.78,142.3 L80.09,142.3 L80.41,142.3 L80.72,142.3 L81.04,142.3 L81.36,142.3 L81.67,142.3 L81.99,142.3 L82.31,142.3 L82.62,142.3 L82.94,142.3 L83.25,142.3 L83.57,142.3 L83.89,142.3 L84.2,142.3 L84.52,142.3 L84.83,142.3 L85.15,142.3 L85.47,142.3 L85.78,142.3 L86.1,142.3 L86.41,142.3 L86.73,142.3 L87.05,142.3 L87.36,142.3 L87.68,142.3 L87.99,142.3 L88.31,142.3 L88.63,142.3 L88.94,142.3 L89.26,142.3 L89.58,142.3 L89.89,142.3 L90.21,142.3 L90.52,142.3 L90.84,142.3 L91.16,142.3 L91.47,142.3 L91.79,142.3 L92.1,142.3 L92.42,142.3 L92.74,142.3 L93.05,142.3 L93.37,142.3 L93.68,142.3 L94,142.3 L94.32,142.3 L94.63,142.3 L94.95,142.3 L95.27,142.3 L95.58,142.3 L95.9,142.3 L96.21,142.3 L96.53,142.3 L96.85,142.3 L97.16,142.3 L97.48,142.3 L97.79,142.3 L98.11,142.3 L98.43,142.3 L98.74,142.3 L99.06,142.3 L99.37,142.3 L99.69,142.3 L100.01,142.3 L100.32,142.3 L100.64,142.3 L100.95,142.3 L101.27,142.3 L101.59,142.3 L101.9,142.3 L102.22,142.3 L102.54,142.3 L102.85,142.3 L103.17,142.3 L103.48,142.3 L103.8,142.3 L104.12,142.3 L104.43,142.3 L104.75,142.3 L105.06,142.3 L105.38,142.3 L105.7,140.92 L106.01,138.48 L106.33,137 L106.64,136.1 L106.96,135.55 L107.28,135.22 L107.59,135.02 L107.91,134.9 L108.23,134.82 L108.54,134.78 L108.86,134.75 L109.17,134.74 L109.49,134.73 L109.81,134.72 L110.12,134.72 L110.44,134.71 L110.75,134.71 L111.07,134.71 L111.39,134.71 L111.7,134.71 L112.02,134.71 L112.33,134.71 L112.65,134.71 L112.97,134.71 L113.28,134.71 L113.6,134.71 L113.91,134.71 L114.23,134.71 L114.55,134.71 L114.86,134.71 L115.18,134.71 L115.5,134.71 L115.81,134.71 L116.13,134.71 L116.44,134.71 L116.76,134.71 L117.08,134.71 L117.39,134.71 L117.71,134.71 L118.02,134.71 L118.34,134.71 L118.66,134.71 L118.97,134.71 L119.29,134.71 L119.6,134.71 L119.92,134.71 L120.24,134.71 L120.55,134.71 L120.87,134.71 L121.19,134.71 L121.5,134.71 L121.82,134.71 L122.13,134.71 L122.45,134.71 L122.77,134.71 L123.08,134.71 L123.4,134.71 L123.71,134.71 L124.03,134.71 L124.35,134.71 L124.66,134.71 L124.98,134.71 L125.29,134.71 L125.61,134.71 L125.93,134.71 L126.24,134.71 L126.56,134.71 L126.88,134.71 L127.19,134.71 L127.51,134.71 L127.82,134.71 L128.14,134.71 L128.46,134.71 L128.77,134.71 L129.09,134.71 L129.4,134.71 L129.72,134.71 L130.04,134.71 L130.35,134.71 L130.67,134.71 L130.98,134.71 L131.3,134.71 L131.62,134.71 L131.93,134.71 L132.25,134.71 L132.56,134.71 L132.88,134.71 L133.2,134.71 L133.51,134.71 L133.83,134.71 L134.15,134.71 L134.46,134.71 L134.78,134.71 L135.09,134.71 L135.41,134.71 L135.73,134.71 L136.04,134.71 L136.36,134.71 L136.67,134.71 L136.99,134.71 L137.31,134.71 L137.62,134.71 L137.94,134.71 L138.25,134.71 L138.57,134.71 L138.89,134.71 L139.2,134.71 L139.52,134.71 L139.84,134.71 L140.15,134.71 L140.47,134.71 L140.78,134.71 L141.1,134.71 L141.42,134.71 L141.73,134.71 L142.05,134.71 L142.36,134.71 L142.68,134.71 L143,134.71 L143.31,134.71 L143.63,134.71 L143.94,134.71 L144.26,134.71 L144.58,134.71 L144.89,134.71 L145.21,134.71 L145.52,134.71 L145.84,134.71 L146.16,134.71 L146.47,134.71 L146.79,134.71 L147.11,134.71 L147.42,134.71 L147.74,134.71 L148.05,134.71 L148.37,134.71 L148.69,134.71 L149,134.71 L149.32,134.71 L149.63,134.71 L149.95,134.71 L150.27,134.71 L150.58,134.71 L150.9,134.71 L151.21,134.71 L151.53,134.71 L151.85,134.71 L152.16,134.71 L152.48,134.71 L152.8,134.71 L153.11,134.71 L153.43,134.71 L153.74,134.71 L154.06,134.71 L154.38,134.71 L154.69,134.71 L155.01,134.71 L155.32,134.71 L155.64,134.71 L155.96,134.71 L156.27,134.71 L156.59,134.71 L156.9,134.71 L157.22,134.71 L157.54,134.71 L157.85,134.71 L158.17,134.71 L158.49,134.71 L158.8,134.71 L159.12,134.71 L159.43,134.71 L159.75,134.71 L160.07,134.71 L160.38,134.71 L160.7,134.71 L161.01,134.71 L161.33,134.71 L161.65,134.71 L161.96,134.71 L162.28,134.71 L162.59,134.71 L162.91,134.71 L163.23,134.71 L163.54,134.71 L163.86,134.71 L164.17,134.71 L164.49,134.71 L164.81,134.71 L165.12,134.71 L165.44,134.71 L165.76,134.71 L166.07,134.71 L166.39,134.71 L166.7,134.71 L167.02,134.71 L167.34,134.71 L167.65,134.71 L167.97,134.71 L168.28,134.71 L168.6,134.71 L168.92,134.71 L169.23,134.71 L169.55,134.71 L169.86,134.71 L170.18,134.71 L170.5,134.71 L170.81,134.71 L171.13,134.71 L171.45,134.71 L171.76,134.71 L172.08,134.71 L172.39,134.71 L172.71,134.71 L173.03,134.71 L173.34,134.71 L173.66,134.71 L173.97,134.71 L174.29,134.71 L174.61,134.71 L174.92,134.71 L175.24,134.71 L175.55,134.71 L175.87,134.71 L176.19,134.71 L176.5,134.71 L176.82,134.71 L177.13,134.71 L177.45,134.71 L177.77,134.71 L178.08,134.71 L178.4,134.71 L178.72,134.71 L179.03,134.71 L179.35,134.71 L179.66,134.71 L179.98,134.71 L180.3,134.71 L180.61,137.13 L180.93,138.63 L181.24,139.56 L181.56,140.15 L181.88,140.52 L182.19,140.76 L182.51,140.92 L182.82,141.03 L183.14,141.11 L183.46,141.16 L183.77,141.2 L184.09,141.23 L184.41,141.26 L184.72,141.28 L185.04,141.29 L185.35,141.31 L185.67,141.32 L185.99,141.33 L186.3,141.33 L186.62,141.34 L186.93,141.35 L187.25,141.35 L187.57,141.35 L187.88,141.36 L188.2,141.36 L188.51,141.36 L188.83,141.37 L189.15,141.37 L189.46,141.37 L189.78,141.37 L190.1,141.37 L190.41,141.37 L190.73,141.37 L191.04,141.38 L191.36,141.38 L191.68,141.38 L191.99,141.38 L192.31,141.38 L192.62,141.38 L192.94,141.38 L193.26,141.38 L193.57,141.38 L193.89,141.38 L194.2,141.38 L194.52,141.38 L194.84,141.38 L195.15,141.38 L195.47,141.38 L195.78,141.38 L196.1,141.38 L196.42,141.38 L196.73,141.38 L197.05,141.38 L197.37,141.38 L197.68,141.38 L198,141.38 L198.31,141.38 L198.63,141.38 L198.95,141.38 L199.26,141.38 L199.58,141.38 L199.89,141.38 L200.21,141.38 L200.53,141.38 L200.84,141.38 L201.16,141.38 L201.47,141.38 L201.79,141.38 L202.11,141.38 L202.42,141.38 L202.74,141.38 L203.06,141.38 L203.37,141.38 L203.69,141.38 L204,141.38 L204.32,141.38 L204.64,141.38 L204.95,141.38 L205.27,141.38 L205.58,141.38 L205.9,141.38 L206.22,141.38 L206.53,141.38 L206.85,141.38 L207.16,141.38 L207.48,141.38 L207.8,141.38 L208.11,141.38 L208.43,141.38 L208.75,141.38 L209.06,141.38 L209.38,141.38 L209.69,141.38 L210.01,141.38 L210.33,141.38 L210.64,141.38 L210.96,141.38 L211.27,141.38 L211.59,141.38 L211.91,141.38 L212.22,141.38 L212.54,141.38 L212.85,141.38 L213.17,141.38 L213.49,141.38 L213.8,141.38 L214.12,141.38 L214.43,141.38 L214.75,141.38 L215.07,141.38 L215.38,141.38 L215.7,141.38 L216.02,141.38 L216.33,141.38 L216.65,141.38 L216.96,141.38 L217.28,141.38 L217.6,141.38 L217.91,141.38 L218.23,141.38 L218.54,141.38 L218.86,141.38 L219.18,141.38 L219.49,141.38 L219.81,141.38 L220.12,141.38 L220.44,141.38 L220.76,141.38 L221.07,141.38 L221.39,141.38 L221.71,141.38 L222.02,141.38 L222.34,141.38 L222.65,141.38 L222.97,141.38 L223.29,141.38 L223.6,141.38 L223.92,141.38 L224.23,141.38 L224.55,141.38 L224.87,141.38 L225.18,141.38 L225.5,141.38 L225.81,141.38 L226.13,141.38 L226.45,141.38 L226.76,141.38 L227.08,141.38 L227.39,141.38 L227.71,141.38 L228.03,141.38 L228.34,141.38 L228.66,141.38 L228.98,141.38 L229.29,141.38 L229.61,141.38 L229.92,141.38 L230.24,141.38 L230.56,141.38 L230.87,141.38 L231.19,141.38 L231.5,141.38 L231.82,141.38 L232.14,141.38 L232.45,141.38 L232.77,141.38 L233.08,141.38 L233.4,141.38 L233.72,141.38 L234.03,141.38 L234.35,141.38 L234.67,141.38 L234.98,141.38 L235.3,141.38 L235.61,141.38 L235.93,141.38 L236.25,141.38 L236.56,141.38 L236.88,141.38 L237.19,141.38 L237.51,141.38 L237.83,141.38 L238.14,141.38 L238.46,141.38 L238.77,141.38 L239.09,141.38 L239.41,141.38 L239.72,141.38 L240.04,141.38 L240.35,141.38 L240.67,141.38 L240.99,141.38 L241.3,141.38 L241.62,141.38 L241.94,141.38 L242.25,141.38 L242.57,141.38 L242.88,141.38 L243.2,141.38 L243.52,141.38 L243.83,141.38 L244.15,141.38 L244.46,141.38 L244.78,141.38 L245.1,141.38 L245.41,141.38 L245.73,141.38 L246.04,141.38 L246.36,141.38 L246.68,141.38 L246.99,141.38 L247.31,141.38 L247.63,141.38 L247.94,141.38 L248.26,141.38 L248.57,141.38 L248.89,141.38 L249.21,141.38 L249.52,141.38 L249.84,141.38 L250.15,141.38 L250.47,141.38 L250.79,141.38 L251.1,141.38 L251.42,141.38 L251.73,141.38 L252.05,141.38 L252.37,141.38 L252.68,141.38 L253,141.38 L253.32,141.38 L253.63,141.38 L253.95,141.38 L254.26,141.38 L254.58,141.38 L254.9,141.38 L255.21,141.38 L255.53,141.38 L255.84,141.38" fill="none" stroke="#000" stroke-width="2.3" stroke-linejoin="round"/>
<path d="M66.5,142.3 L66.82,142.3 L67.13,142.3 L67.45,142.3 L67.76,142.3 L68.08,142.3 L68.4,142.3 L68.71,142.3 L69.03,142.3 L69.34,142.3 L69.66,142.3 L69.98,142.3 L70.29,142.3 L70.61,142.3 L70.93,142.3 L71.24,142.3 L71.56,142.3 L71.87,142.3 L72.19,142.3 L72.51,142.3 L72.82,142.3 L73.14,142.3 L73.45,142.3 L73.77,142.3 L74.09,142.3 L74.4,142.3 L74.72,142.3 L75.03,142.3 L75.35,142.3 L75.67,142.3 L75.98,142.3 L76.3,142.3 L76.62,142.3 L76.93,142.3 L77.25,142.3 L77.56,142.3 L77.88,142.3 L78.2,142.3 L78.51,142.3 L78.83,142.3 L79.14,142.3 L79.46,142.3 L79.78,142.3 L80.09,142.3 L80.41,142.3 L80.72,142.3 L81.04,142.3 L81.36,142.3 L81.67,142.3 L81.99,142.3 L82.31,142.3 L82.62,142.3 L82.94,142.3 L83.25,142.3 L83.57,142.3 L83.89,142.3 L84.2,142.3 L84.52,142.3 L84.83,142.3 L85.15,142.3 L85.47,142.3 L85.78,142.3 L86.1,142.3 L86.41,142.3 L86.73,142.3 L87.05,142.3 L87.36,142.3 L87.68,142.3 L87.99,142.3 L88.31,142.3 L88.63,142.3 L88.94,142.3 L89.26,142.3 L89.58,142.3 L89.89,142.3 L90.21,142.3 L90.52,142.3 L90.84,142.3 L91.16,142.3 L91.47,142.3 L91.79,142.3 L92.1,142.3 L92.42,142.3 L92.74,142.3 L93.05,142.3 L93.37,142.3 L93.68,142.3 L94,142.3 L94.32,142.3 L94.63,142.3 L94.95,142.3 L95.27,142.3 L95.58,142.3 L95.9,142.3 L96.21,142.3 L96.53,142.3 L96.85,142.3 L97.16,142.3 L97.48,142.3 L97.79,142.3 L98.11,142.3 L98.43,142.3 L98.74,142.3 L99.06,142.3 L99.37,142.3 L99.69,142.3 L100.01,142.3 L100.32,142.3 L100.64,142.3 L100.95,142.3 L101.27,142.3 L101.59,142.3 L101.9,142.3 L102.22,142.3 L102.54,142.3 L102.85,142.3 L103.17,142.3 L103.48,142.3 L103.8,142.3 L104.12,142.3 L104.43,142.3 L104.75,142.3 L105.06,142.3 L105.38,142.3 L105.7,141.63 L106.01,140.45 L106.33,139.73 L106.64,139.29 L106.96,139.03 L107.28,138.87 L107.59,138.77 L107.91,138.71 L108.23,138.68 L108.54,138.65 L108.86,138.64 L109.17,138.63 L109.49,138.63 L109.81,138.62 L110.12,138.62 L110.44,138.62 L110.75,138.62 L111.07,138.62 L111.39,138.62 L111.7,138.62 L112.02,138.62 L112.33,138.62 L112.65,138.62 L112.97,138.62 L113.28,138.62 L113.6,138.62 L113.91,138.62 L114.23,138.62 L114.55,138.62 L114.86,138.62 L115.18,138.62 L115.5,138.62 L115.81,138.62 L116.13,138.62 L116.44,138.62 L116.76,138.62 L117.08,138.62 L117.39,138.62 L117.71,138.62 L118.02,138.62 L118.34,138.62 L118.66,138.62 L118.97,138.62 L119.29,138.62 L119.6,138.62 L119.92,138.62 L120.24,138.62 L120.55,138.62 L120.87,138.62 L121.19,138.62 L121.5,138.62 L121.82,138.62 L122.13,138.62 L122.45,138.62 L122.77,138.62 L123.08,138.62 L123.4,138.62 L123.71,138.62 L124.03,138.62 L124.35,138.62 L124.66,138.62 L124.98,138.62 L125.29,138.62 L125.61,138.62 L125.93,138.62 L126.24,138.62 L126.56,138.62 L126.88,138.62 L127.19,138.62 L127.51,138.62 L127.82,138.62 L128.14,138.62 L128.46,138.62 L128.77,138.62 L129.09,138.62 L129.4,138.62 L129.72,138.62 L130.04,138.62 L130.35,138.62 L130.67,138.62 L130.98,138.62 L131.3,138.62 L131.62,138.62 L131.93,138.62 L132.25,138.62 L132.56,138.62 L132.88,138.62 L133.2,138.62 L133.51,138.62 L133.83,138.62 L134.15,138.62 L134.46,138.62 L134.78,138.62 L135.09,138.62 L135.41,138.62 L135.73,138.62 L136.04,138.62 L136.36,138.62 L136.67,138.62 L136.99,138.62 L137.31,138.62 L137.62,138.62 L137.94,138.62 L138.25,138.62 L138.57,138.62 L138.89,138.62 L139.2,138.62 L139.52,138.62 L139.84,138.62 L140.15,138.62 L140.47,138.62 L140.78,138.62 L141.1,138.62 L141.42,138.62 L141.73,138.62 L142.05,138.62 L142.36,138.62 L142.68,138.62 L143,138.62 L143.31,138.62 L143.63,138.62 L143.94,138.62 L144.26,138.62 L144.58,138.62 L144.89,138.62 L145.21,138.62 L145.52,138.62 L145.84,138.62 L146.16,138.62 L146.47,138.62 L146.79,138.62 L147.11,138.62 L147.42,138.62 L147.74,138.62 L148.05,138.62 L148.37,138.62 L148.69,138.62 L149,138.62 L149.32,138.62 L149.63,138.62 L149.95,138.62 L150.27,138.62 L150.58,138.62 L150.9,138.62 L151.21,138.62 L151.53,138.62 L151.85,138.62 L152.16,138.62 L152.48,138.62 L152.8,138.62 L153.11,138.62 L153.43,138.62 L153.74,138.62 L154.06,138.62 L154.38,138.62 L154.69,138.62 L155.01,138.62 L155.32,138.62 L155.64,138.62 L155.96,138.62 L156.27,138.62 L156.59,138.62 L156.9,138.62 L157.22,138.62 L157.54,138.62 L157.85,138.62 L158.17,138.62 L158.49,138.62 L158.8,138.62 L159.12,138.62 L159.43,138.62 L159.75,138.62 L160.07,138.62 L160.38,138.62 L160.7,138.62 L161.01,138.62 L161.33,138.62 L161.65,138.62 L161.96,138.62 L162.28,138.62 L162.59,138.62 L162.91,138.62 L163.23,138.62 L163.54,138.62 L163.86,138.62 L164.17,138.62 L164.49,138.62 L164.81,138.62 L165.12,138.62 L165.44,138.62 L165.76,138.62 L166.07,138.62 L166.39,138.62 L166.7,138.62 L167.02,138.62 L167.34,138.62 L167.65,138.62 L167.97,138.62 L168.28,138.62 L168.6,138.62 L168.92,138.62 L169.23,138.62 L169.55,138.62 L169.86,138.62 L170.18,138.62 L170.5,138.62 L170.81,138.62 L171.13,138.62 L171.45,138.62 L171.76,138.62 L172.08,138.62 L172.39,138.62 L172.71,138.62 L173.03,138.62 L173.34,138.62 L173.66,138.62 L173.97,138.62 L174.29,138.62 L174.61,138.62 L174.92,138.62 L175.24,138.62 L175.55,138.62 L175.87,138.62 L176.19,138.62 L176.5,138.62 L176.82,138.62 L177.13,138.62 L177.45,138.62 L177.77,138.62 L178.08,138.62 L178.4,138.62 L178.72,138.62 L179.03,138.62 L179.35,138.62 L179.66,138.62 L179.98,138.62 L180.3,138.62 L180.61,139.83 L180.93,140.58 L181.24,141.04 L181.56,141.34 L181.88,141.53 L182.19,141.65 L182.51,141.73 L182.82,141.78 L183.14,141.82 L183.46,141.85 L183.77,141.87 L184.09,141.88 L184.41,141.89 L184.72,141.9 L185.04,141.91 L185.35,141.92 L185.67,141.92 L185.99,141.93 L186.3,141.93 L186.62,141.93 L186.93,141.94 L187.25,141.94 L187.57,141.94 L187.88,141.94 L188.2,141.95 L188.51,141.95 L188.83,141.95 L189.15,141.95 L189.46,141.95 L189.78,141.95 L190.1,141.95 L190.41,141.95 L190.73,141.95 L191.04,141.95 L191.36,141.95 L191.68,141.95 L191.99,141.95 L192.31,141.95 L192.62,141.95 L192.94,141.95 L193.26,141.95 L193.57,141.95 L193.89,141.95 L194.2,141.95 L194.52,141.95 L194.84,141.95 L195.15,141.95 L195.47,141.95 L195.78,141.95 L196.1,141.95 L196.42,141.95 L196.73,141.95 L197.05,141.95 L197.37,141.95 L197.68,141.95 L198,141.95 L198.31,141.95 L198.63,141.95 L198.95,141.95 L199.26,141.95 L199.58,141.95 L199.89,141.95 L200.21,141.95 L200.53,141.95 L200.84,141.95 L201.16,141.95 L201.47,141.95 L201.79,141.95 L202.11,141.95 L202.42,141.95 L202.74,141.95 L203.06,141.95 L203.37,141.95 L203.69,141.95 L204,141.95 L204.32,141.95 L204.64,141.95 L204.95,141.95 L205.27,141.95 L205.58,141.95 L205.9,141.95 L206.22,141.95 L206.53,141.95 L206.85,141.95 L207.16,141.95 L207.48,141.95 L207.8,141.95 L208.11,141.95 L208.43,141.95 L208.75,141.95 L209.06,141.95 L209.38,141.95 L209.69,141.95 L210.01,141.95 L210.33,141.95 L210.64,141.95 L210.96,141.95 L211.27,141.95 L211.59,141.95 L211.91,141.95 L212.22,141.95 L212.54,141.95 L212.85,141.95 L213.17,141.95 L213.49,141.95 L213.8,141.95 L214.12,141.95 L214.43,141.95 L214.75,141.95 L215.07,141.95 L215.38,141.95 L215.7,141.95 L216.02,141.95 L216.33,141.95 L216.65,141.95 L216.96,141.95 L217.28,141.95 L217.6,141.95 L217.91,141.95 L218.23,141.95 L218.54,141.95 L218.86,141.95 L219.18,141.95 L219.49,141.95 L219.81,141.95 L220.12,141.95 L220.44,141.95 L220.76,141.95 L221.07,141.95 L221.39,141.95 L221.71,141.95 L222.02,141.95 L222.34,141.95 L222.65,141.95 L222.97,141.95 L223.29,141.95 L223.6,141.95 L223.92,141.95 L224.23,141.95 L224.55,141.95 L224.87,141.95 L225.18,141.95 L225.5,141.95 L225.81,141.95 L226.13,141.95 L226.45,141.95 L226.76,141.95 L227.08,141.95 L227.39,141.95 L227.71,141.95 L228.03,141.95 L228.34,141.95 L228.66,141.95 L228.98,141.95 L229.29,141.95 L229.61,141.95 L229.92,141.95 L230.24,141.95 L230.56,141.95 L230.87,141.95 L231.19,141.95 L231.5,141.95 L231.82,141.95 L232.14,141.95 L232.45,141.95 L232.77,141.95 L233.08,141.95 L233.4,141.95 L233.72,141.95 L234.03,141.95 L234.35,141.95 L234.67,141.95 L234.98,141.95 L235.3,141.95 L235.61,141.95 L235.93,141.95 L236.25,141.95 L236.56,141.95 L236.88,141.95 L237.19,141.95 L237.51,141.95 L237.83,141.95 L238.14,141.95 L238.46,141.95 L238.77,141.95 L239.09,141.95 L239.41,141.95 L239.72,141.95 L240.04,141.95 L240.35,141.95 L240.67,141.95 L240.99,141.95 L241.3,141.95 L241.62,141.95 L241.94,141.95 L242.25,141.95 L242.57,141.95 L242.88,141.95 L243.2,141.95 L243.52,141.95 L243.83,141.95 L244.15,141.95 L244.46,141.95 L244.78,141.95 L245.1,141.95 L245.41,141.95 L245.73,141.95 L246.04,141.96 L246.36,141.96 L246.68,141.96 L246.99,141.96 L247.31,141.96 L247.63,141.96 L247.94,141.96 L248.26,141.96 L248.57,141.96 L248.89,141.96 L249.21,141.96 L249.52,141.96 L249.84,141.96 L250.15,141.96 L250.47,141.96 L250.79,141.96 L251.1,141.96 L251.42,141.96 L251.73,141.96 L252.05,141.96 L252.37,141.96 L252.68,141.96 L253,141.96 L253.32,141.96 L253.63,141.96 L253.95,141.96 L254.26,141.96 L254.58,141.96 L254.9,141.96 L255.21,141.96 L255.53,141.96 L255.84,141.96" fill="none" stroke="#000" stroke-width="2.3" stroke-linejoin="round"/>
<path d="M180.3,99.85 L180.61,113.93 L180.93,122.62 L181.24,128.04 L181.56,131.45 L181.88,133.62 L182.19,135.03 L182.51,135.96 L182.82,136.59 L183.14,137.04 L183.46,137.35 L183.77,137.59 L184.09,137.77 L184.41,137.91 L184.72,138.02 L185.04,138.11 L185.35,138.19 L185.67,138.25 L185.99,138.3 L186.3,138.35 L186.62,138.39 L186.93,138.42 L187.25,138.45 L187.57,138.47 L187.88,138.49 L188.2,138.51 L188.51,138.53 L188.83,138.54 L189.15,138.55 L189.46,138.56 L189.78,138.57 L190.1,138.58 L190.41,138.58 L190.73,138.59 L191.04,138.59 L191.36,138.6 L191.68,138.6 L191.99,138.6 L192.31,138.6 L192.62,138.61 L192.94,138.61 L193.26,138.61 L193.57,138.61 L193.89,138.61 L194.2,138.61 L194.52,138.61 L194.84,138.62 L195.15,138.62 L195.47,138.62 L195.78,138.62 L196.1,138.62 L196.42,138.62 L196.73,138.62 L197.05,138.62 L197.37,138.62 L197.68,138.62 L198,138.62 L198.31,138.62 L198.63,138.62 L198.95,138.62 L199.26,138.62 L199.58,138.62 L199.89,138.62 L200.21,138.62 L200.53,138.62 L200.84,138.62 L201.16,138.62 L201.47,138.62 L201.79,138.62 L202.11,138.62 L202.42,138.62 L202.74,138.62 L203.06,138.62 L203.37,138.62 L203.69,138.62 L204,138.62 L204.32,138.62 L204.64,138.62 L204.95,138.62 L205.27,138.62 L205.58,138.62 L205.9,138.62 L206.22,138.62 L206.53,138.62 L206.85,138.62 L207.16,138.62 L207.48,138.62 L207.8,138.62 L208.11,138.62 L208.43,138.62 L208.75,138.62 L209.06,138.62 L209.38,138.62 L209.69,138.62 L210.01,138.62 L210.33,138.62 L210.64,138.62 L210.96,138.62 L211.27,138.62 L211.59,138.62 L211.91,138.62 L212.22,138.62 L212.54,138.62 L212.85,138.62 L213.17,138.62 L213.49,138.62 L213.8,138.62 L214.12,138.62 L214.43,138.62 L214.75,138.62 L215.07,138.62 L215.38,138.62 L215.7,138.62 L216.02,138.62 L216.33,138.62 L216.65,138.62 L216.96,138.62 L217.28,138.62 L217.6,138.62 L217.91,138.62 L218.23,138.62 L218.54,138.62 L218.86,138.62 L219.18,138.62 L219.49,138.62 L219.81,138.62 L220.12,138.62 L220.44,138.62 L220.76,138.62 L221.07,138.62 L221.39,138.62 L221.71,138.62 L222.02,138.62 L222.34,138.62 L222.65,138.62 L222.97,138.62 L223.29,138.62 L223.6,138.62 L223.92,138.62 L224.23,138.62 L224.55,138.62 L224.87,138.62 L225.18,138.62 L225.5,138.62 L225.81,138.62 L226.13,138.62 L226.45,138.62 L226.76,138.62 L227.08,138.62 L227.39,138.62 L227.71,138.62 L228.03,138.62 L228.34,138.62 L228.66,138.62 L228.98,138.62 L229.29,138.62 L229.61,138.62 L229.92,138.62 L230.24,138.62 L230.56,138.62 L230.87,138.62 L231.19,138.62 L231.5,138.62 L231.82,138.62 L232.14,138.62 L232.45,138.62 L232.77,138.62 L233.08,138.62 L233.4,138.62 L233.72,138.62 L234.03,138.62 L234.35,138.62 L234.67,138.62 L234.98,138.62 L235.3,138.62 L235.61,138.62 L235.93,138.62 L236.25,138.62 L236.56,138.62 L236.88,138.62 L237.19,138.62 L237.51,138.62 L237.83,138.62 L238.14,138.62 L238.46,138.62 L238.77,138.62 L239.09,138.62 L239.41,138.62 L239.72,138.62 L240.04,138.62 L240.35,138.62 L240.67,138.62 L240.99,138.62 L241.3,138.62 L241.62,138.62 L241.94,138.62 L242.25,138.62 L242.57,138.62 L242.88,138.62 L243.2,138.62 L243.52,138.62 L243.83,138.62 L244.15,138.62 L244.46,138.62 L244.78,138.62 L245.1,138.62 L245.41,138.62 L245.73,138.62 L246.04,138.62 L246.36,138.62 L246.68,138.62 L246.99,138.62 L247.31,138.62 L247.63,138.62 L247.94,138.62 L248.26,138.62 L248.57,138.62 L248.89,138.62 L249.21,138.62 L249.52,138.62 L249.84,138.62 L250.15,138.62 L250.47,138.62 L250.79,138.62 L251.1,138.62 L251.42,138.62 L251.73,138.62 L252.05,138.62 L252.37,138.62 L252.68,138.62 L253,138.62 L253.32,138.62 L253.63,138.62 L253.95,138.62 L254.26,138.62 L254.58,138.62 L254.9,138.62 L255.21,138.62 L255.53,138.62 L255.84,138.62 L255.84,141.96 L255.53,141.96 L255.21,141.96 L254.9,141.96 L254.58,141.96 L254.26,141.96 L253.95,141.96 L253.63,141.96 L253.32,141.96 L253,141.96 L252.68,141.96 L252.37,141.96 L252.05,141.96 L251.73,141.96 L251.42,141.96 L251.1,141.96 L250.79,141.96 L250.47,141.96 L250.15,141.96 L249.84,141.96 L249.52,141.96 L249.21,141.96 L248.89,141.96 L248.57,141.96 L248.26,141.96 L247.94,141.96 L247.63,141.96 L247.31,141.96 L246.99,141.96 L246.68,141.96 L246.36,141.96 L246.04,141.96 L245.73,141.95 L245.41,141.95 L245.1,141.95 L244.78,141.95 L244.46,141.95 L244.15,141.95 L243.83,141.95 L243.52,141.95 L243.2,141.95 L242.88,141.95 L242.57,141.95 L242.25,141.95 L241.94,141.95 L241.62,141.95 L241.3,141.95 L240.99,141.95 L240.67,141.95 L240.35,141.95 L240.04,141.95 L239.72,141.95 L239.41,141.95 L239.09,141.95 L238.77,141.95 L238.46,141.95 L238.14,141.95 L237.83,141.95 L237.51,141.95 L237.19,141.95 L236.88,141.95 L236.56,141.95 L236.25,141.95 L235.93,141.95 L235.61,141.95 L235.3,141.95 L234.98,141.95 L234.67,141.95 L234.35,141.95 L234.03,141.95 L233.72,141.95 L233.4,141.95 L233.08,141.95 L232.77,141.95 L232.45,141.95 L232.14,141.95 L231.82,141.95 L231.5,141.95 L231.19,141.95 L230.87,141.95 L230.56,141.95 L230.24,141.95 L229.92,141.95 L229.61,141.95 L229.29,141.95 L228.98,141.95 L228.66,141.95 L228.34,141.95 L228.03,141.95 L227.71,141.95 L227.39,141.95 L227.08,141.95 L226.76,141.95 L226.45,141.95 L226.13,141.95 L225.81,141.95 L225.5,141.95 L225.18,141.95 L224.87,141.95 L224.55,141.95 L224.23,141.95 L223.92,141.95 L223.6,141.95 L223.29,141.95 L222.97,141.95 L222.65,141.95 L222.34,141.95 L222.02,141.95 L221.71,141.95 L221.39,141.95 L221.07,141.95 L220.76,141.95 L220.44,141.95 L220.12,141.95 L219.81,141.95 L219.49,141.95 L219.18,141.95 L218.86,141.95 L218.54,141.95 L218.23,141.95 L217.91,141.95 L217.6,141.95 L217.28,141.95 L216.96,141.95 L216.65,141.95 L216.33,141.95 L216.02,141.95 L215.7,141.95 L215.38,141.95 L215.07,141.95 L214.75,141.95 L214.43,141.95 L214.12,141.95 L213.8,141.95 L213.49,141.95 L213.17,141.95 L212.85,141.95 L212.54,141.95 L212.22,141.95 L211.91,141.95 L211.59,141.95 L211.27,141.95 L210.96,141.95 L210.64,141.95 L210.33,141.95 L210.01,141.95 L209.69,141.95 L209.38,141.95 L209.06,141.95 L208.75,141.95 L208.43,141.95 L208.11,141.95 L207.8,141.95 L207.48,141.95 L207.16,141.95 L206.85,141.95 L206.53,141.95 L206.22,141.95 L205.9,141.95 L205.58,141.95 L205.27,141.95 L204.95,141.95 L204.64,141.95 L204.32,141.95 L204,141.95 L203.69,141.95 L203.37,141.95 L203.06,141.95 L202.74,141.95 L202.42,141.95 L202.11,141.95 L201.79,141.95 L201.47,141.95 L201.16,141.95 L200.84,141.95 L200.53,141.95 L200.21,141.95 L199.89,141.95 L199.58,141.95 L199.26,141.95 L198.95,141.95 L198.63,141.95 L198.31,141.95 L198,141.95 L197.68,141.95 L197.37,141.95 L197.05,141.95 L196.73,141.95 L196.42,141.95 L196.1,141.95 L195.78,141.95 L195.47,141.95 L195.15,141.95 L194.84,141.95 L194.52,141.95 L194.2,141.95 L193.89,141.95 L193.57,141.95 L193.26,141.95 L192.94,141.95 L192.62,141.95 L192.31,141.95 L191.99,141.95 L191.68,141.95 L191.36,141.95 L191.04,141.95 L190.73,141.95 L190.41,141.95 L190.1,141.95 L189.78,141.95 L189.46,141.95 L189.15,141.95 L188.83,141.95 L188.51,141.95 L188.2,141.95 L187.88,141.94 L187.57,141.94 L187.25,141.94 L186.93,141.94 L186.62,141.93 L186.3,141.93 L185.99,141.93 L185.67,141.92 L185.35,141.92 L185.04,141.91 L184.72,141.9 L184.41,141.89 L184.09,141.88 L183.77,141.87 L183.46,141.85 L183.14,141.82 L182.82,141.78 L182.51,141.73 L182.19,141.65 L181.88,141.53 L181.56,141.34 L181.24,141.04 L180.93,140.58 L180.61,139.83 L180.3,138.62 Z" fill="#000" stroke="none"/>
<line x1="186" y1="136.7" x2="257.1" y2="136.7" stroke="#999" stroke-width="1.2"/>
<path d="M319.6,141.6 L319.91,141.6 L320.22,141.6 L320.53,141.6 L320.84,141.6 L321.15,141.6 L321.46,141.6 L321.77,141.6 L322.08,141.6 L322.39,141.6 L322.71,141.6 L323.02,141.6 L323.33,141.6 L323.64,141.6 L323.95,141.6 L324.26,141.6 L324.57,141.6 L324.88,141.6 L325.19,141.6 L325.5,141.6 L325.81,141.6 L326.12,141.6 L326.43,141.6 L326.74,141.6 L327.05,141.6 L327.36,141.6 L327.67,141.6 L327.98,141.6 L328.29,141.6 L328.6,141.6 L328.92,141.6 L329.23,141.6 L329.54,141.6 L329.85,141.6 L330.16,141.6 L330.47,141.6 L330.78,141.6 L331.09,141.6 L331.4,141.6 L331.71,141.6 L332.02,141.6 L332.33,141.6 L332.64,141.6 L332.95,141.6 L333.26,141.6 L333.57,141.6 L333.88,141.6 L334.19,141.6 L334.5,141.6 L334.81,141.6 L335.12,141.6 L335.44,141.6 L335.75,141.6 L336.06,141.6 L336.37,141.6 L336.68,141.6 L336.99,141.6 L337.3,141.6 L337.61,141.6 L337.92,141.6 L338.23,141.6 L338.54,141.6 L338.85,141.6 L339.16,141.6 L339.47,141.6 L339.78,141.6 L340.09,141.6 L340.4,141.6 L340.71,141.6 L341.02,141.6 L341.34,141.6 L341.65,141.6 L341.96,141.6 L342.27,141.6 L342.58,141.6 L342.89,141.6 L343.2,141.6 L343.51,141.6 L343.82,141.6 L344.13,141.6 L344.44,141.6 L344.75,141.6 L345.06,141.6 L345.37,141.6 L345.68,141.6 L345.99,141.6 L346.3,141.6 L346.61,141.6 L346.92,141.6 L347.23,141.6 L347.55,141.6 L347.86,141.6 L348.17,141.6 L348.48,141.6 L348.79,141.6 L349.1,141.6 L349.41,141.6 L349.72,141.6 L350.03,141.6 L350.34,141.6 L350.65,141.6 L350.96,141.6 L351.27,141.6 L351.58,141.6 L351.89,141.6 L352.2,141.6 L352.51,141.6 L352.82,141.6 L353.13,141.6 L353.44,141.6 L353.75,141.6 L354.07,141.6 L354.38,141.6 L354.69,141.6 L355,141.6 L355.31,141.6 L355.62,141.6 L355.93,141.6 L356.24,141.6 L356.55,141.6 L356.86,141.6 L357.17,137.37 L357.48,118.88 L357.79,104.13 L358.1,92.36 L358.41,82.96 L358.72,75.44 L359.03,69.41 L359.34,64.58 L359.65,60.69 L359.97,57.56 L360.28,55.02 L360.59,52.97 L360.9,51.29 L361.21,49.92 L361.52,48.79 L361.83,47.85 L362.14,47.07 L362.45,46.41 L362.76,45.86 L363.07,45.38 L363.38,44.96 L363.69,44.6 L364,44.28 L364.31,44 L364.62,43.74 L364.93,43.51 L365.24,43.29 L365.55,43.09 L365.86,42.91 L366.18,42.73 L366.49,42.57 L366.8,42.41 L367.11,42.26 L367.42,42.12 L367.73,41.98 L368.04,41.85 L368.35,41.72 L368.66,41.6 L368.97,41.48 L369.28,41.36 L369.59,41.25 L369.9,41.14 L370.21,41.03 L370.52,40.93 L370.83,40.83 L371.14,40.73 L371.45,40.63 L371.76,40.53 L372.07,40.44 L372.38,40.35 L372.7,40.26 L373.01,40.18 L373.32,40.09 L373.63,40.01 L373.94,39.93 L374.25,39.85 L374.56,39.78 L374.87,39.7 L375.18,39.63 L375.49,39.55 L375.8,39.48 L376.11,39.41 L376.42,39.34 L376.73,39.28 L377.04,39.21 L377.35,39.15 L377.66,39.09 L377.97,39.02 L378.28,38.96 L378.6,38.9 L378.91,38.85 L379.22,38.79 L379.53,38.73 L379.84,38.68 L380.15,38.62 L380.46,38.57 L380.77,38.52 L381.08,38.47 L381.39,38.41 L381.7,38.36 L382.01,38.32 L382.32,38.27 L382.63,38.22 L382.94,38.17 L383.25,38.13 L383.56,38.08 L383.87,38.04 L384.18,37.99 L384.49,37.95 L384.81,37.91 L385.12,37.87 L385.43,37.82 L385.74,37.78 L386.05,37.74 L386.36,37.7 L386.67,37.66 L386.98,37.62 L387.29,37.59 L387.6,37.55 L387.91,37.51 L388.22,37.47 L388.53,37.44 L388.84,37.4 L389.15,37.37 L389.46,37.33 L389.77,37.3 L390.08,37.26 L390.39,37.23 L390.7,37.19 L391.02,37.16 L391.33,37.13 L391.64,37.09 L391.95,37.06 L392.26,37.03 L392.57,37 L392.88,36.96 L393.19,36.93 L393.5,36.9 L393.81,36.87 L394.12,36.84 L394.43,36.81 L394.74,36.78 L395.05,36.75 L395.36,36.72 L395.67,36.69 L395.98,36.66 L396.29,36.63 L396.6,36.6 L396.91,36.57 L397.23,36.55 L397.54,36.52 L397.85,36.49 L398.16,36.46 L398.47,36.43 L398.78,36.41 L399.09,36.38 L399.4,36.35 L399.71,36.32 L400.02,36.3 L400.33,36.27 L400.64,36.24 L400.95,36.22 L401.26,36.19 L401.57,36.16 L401.88,36.14 L402.19,36.11 L402.5,36.09 L402.81,36.06 L403.12,36.03 L403.44,36.01 L403.75,35.98 L404.06,35.96 L404.37,35.93 L404.68,35.91 L404.99,35.88 L405.3,35.86 L405.61,35.83 L405.92,35.81 L406.23,35.78 L406.54,35.76 L406.85,35.73 L407.16,35.71 L407.47,35.68 L407.78,35.66 L408.09,35.63 L408.4,35.61 L408.71,35.58 L409.02,35.56 L409.33,35.53 L409.65,35.51 L409.96,35.49 L410.27,35.46 L410.58,35.44 L410.89,35.41 L411.2,35.39 L411.51,35.37 L411.82,35.34 L412.13,35.32 L412.44,35.29 L412.75,35.27 L413.06,35.25 L413.37,35.22 L413.68,35.2 L413.99,35.18 L414.3,35.15 L414.61,35.13 L414.92,35.11 L415.23,35.08 L415.54,35.06 L415.86,35.04 L416.17,35.01 L416.48,34.99 L416.79,34.97 L417.1,34.94 L417.41,34.92 L417.72,34.9 L418.03,34.87 L418.34,34.85 L418.65,34.83 L418.96,34.8 L419.27,34.78 L419.58,34.76 L419.89,34.73 L420.2,34.71 L420.51,34.69 L420.82,34.67 L421.13,34.64 L421.44,34.62 L421.75,34.6 L422.07,34.57 L422.38,34.55 L422.69,34.53 L423,34.5 L423.31,34.48 L423.62,34.46 L423.93,34.44 L424.24,34.41 L424.55,34.39 L424.86,34.37 L425.17,34.34 L425.48,34.32 L425.79,34.3 L426.1,34.28 L426.41,34.25 L426.72,34.23 L427.03,34.21 L427.34,34.19 L427.65,34.16 L427.96,34.14 L428.28,34.12 L428.59,34.09 L428.9,34.07 L429.21,34.05 L429.52,34.03 L429.83,34 L430.14,33.98 L430.45,33.96 L430.76,33.94 L431.07,33.91 L431.38,33.89 L431.69,33.87 L432,36.33 L432.31,47.17 L432.62,55.86 L432.93,62.94 L433.24,68.79 L433.55,73.69 L433.86,77.88 L434.17,81.5 L434.49,84.68 L434.8,87.52 L435.11,90.07 L435.42,92.39 L435.73,94.52 L436.04,96.5 L436.35,98.33 L436.66,100.05 L436.97,101.66 L437.28,103.18 L437.59,104.62 L437.9,105.97 L438.21,107.26 L438.52,108.49 L438.83,109.65 L439.14,110.76 L439.45,111.81 L439.76,112.81 L440.07,113.77 L440.38,114.68 L440.7,115.56 L441.01,116.39 L441.32,117.18 L441.63,117.94 L441.94,118.66 L442.25,119.35 L442.56,120.01 L442.87,120.64 L443.18,121.24 L443.49,121.82 L443.8,122.37 L444.11,122.89 L444.42,123.4 L444.73,123.88 L445.04,124.34 L445.35,124.78 L445.66,125.2 L445.97,125.61 L446.28,126 L446.59,126.37 L446.91,126.72 L447.22,127.06 L447.53,127.39 L447.84,127.7 L448.15,128 L448.46,128.29 L448.77,128.57 L449.08,128.83 L449.39,129.09 L449.7,129.33 L450.01,129.57 L450.32,129.79 L450.63,130.01 L450.94,130.22 L451.25,130.42 L451.56,130.61 L451.87,130.8 L452.18,130.98 L452.49,131.15 L452.8,131.31 L453.12,131.47 L453.43,131.63 L453.74,131.78 L454.05,131.92 L454.36,132.06 L454.67,132.19 L454.98,132.32 L455.29,132.45 L455.6,132.57 L455.91,132.69 L456.22,132.8 L456.53,132.91 L456.84,133.01 L457.15,133.12 L457.46,133.22 L457.77,133.31 L458.08,133.41 L458.39,133.5 L458.7,133.58 L459.01,133.67 L459.33,133.75 L459.64,133.83 L459.95,133.91 L460.26,133.99 L460.57,134.06 L460.88,134.13 L461.19,134.21 L461.5,134.27 L461.81,134.34 L462.12,134.41 L462.43,134.47 L462.74,134.53 L463.05,134.59 L463.36,134.65 L463.67,134.71 L463.98,134.76 L464.29,134.82 L464.6,134.87 L464.91,134.92 L465.22,134.98 L465.54,135.03 L465.85,135.07 L466.16,135.12 L466.47,135.17 L466.78,135.22 L467.09,135.26 L467.4,135.31 L467.71,135.35 L468.02,135.39 L468.33,135.43 L468.64,135.48 L468.95,135.52 L469.26,135.56 L469.57,135.59 L469.88,135.63 L470.19,135.67 L470.5,135.71 L470.81,135.74 L471.12,135.78 L471.43,135.81 L471.75,135.85 L472.06,135.88 L472.37,135.92 L472.68,135.95 L472.99,135.98 L473.3,136.01 L473.61,136.05 L473.92,136.08 L474.23,136.11 L474.54,136.14 L474.85,136.17 L475.16,136.2 L475.47,136.23 L475.78,136.25 L476.09,136.28 L476.4,136.31 L476.71,136.34 L477.02,136.36 L477.33,136.39 L477.64,136.42 L477.96,136.44 L478.27,136.47 L478.58,136.49 L478.89,136.52 L479.2,136.54 L479.51,136.57 L479.82,136.59 L480.13,136.62 L480.44,136.64 L480.75,136.66 L481.06,136.68 L481.37,136.71 L481.68,136.73 L481.99,136.75 L482.3,136.77 L482.61,136.79 L482.92,136.82 L483.23,136.84 L483.54,136.86 L483.85,136.88 L484.17,136.9 L484.48,136.92 L484.79,136.94 L485.1,136.96 L485.41,136.98 L485.72,137 L486.03,137.02 L486.34,137.04 L486.65,137.05 L486.96,137.07 L487.27,137.09 L487.58,137.11 L487.89,137.13 L488.2,137.14 L488.51,137.16 L488.82,137.18 L489.13,137.2 L489.44,137.21 L489.75,137.23 L490.06,137.25 L490.38,137.26 L490.69,137.28 L491,137.29 L491.31,137.31 L491.62,137.33 L491.93,137.34 L492.24,137.36 L492.55,137.37 L492.86,137.39 L493.17,137.4 L493.48,137.42 L493.79,137.43 L494.1,137.45 L494.41,137.46 L494.72,137.47 L495.03,137.49 L495.34,137.5 L495.65,137.51 L495.96,137.53 L496.27,137.54 L496.59,137.56 L496.9,137.57 L497.21,137.58 L497.52,137.59 L497.83,137.61 L498.14,137.62 L498.45,137.63 L498.76,137.64 L499.07,137.66 L499.38,137.67 L499.69,137.68 L500,137.69 L500.31,137.7 L500.62,137.72 L500.93,137.73 L501.24,137.74 L501.55,137.75 L501.86,137.76 L502.17,137.77 L502.48,137.78 L502.8,137.79 L503.11,137.8 L503.42,137.81 L503.73,137.83 L504.04,137.84 L504.35,137.85 L504.66,137.86 L504.97,137.87 L505.28,137.88 L505.59,137.89 L505.9,137.9" fill="none" stroke="#0a0aaa" stroke-width="2.2" stroke-linejoin="round"/>
<path d="M319.6,141.6 L319.91,141.6 L320.22,141.6 L320.53,141.6 L320.84,141.6 L321.15,141.6 L321.46,141.6 L321.77,141.6 L322.08,141.6 L322.39,141.6 L322.71,141.6 L323.02,141.6 L323.33,141.6 L323.64,141.6 L323.95,141.6 L324.26,141.6 L324.57,141.6 L324.88,141.6 L325.19,141.6 L325.5,141.6 L325.81,141.6 L326.12,141.6 L326.43,141.6 L326.74,141.6 L327.05,141.6 L327.36,141.6 L327.67,141.6 L327.98,141.6 L328.29,141.6 L328.6,141.6 L328.92,141.6 L329.23,141.6 L329.54,141.6 L329.85,141.6 L330.16,141.6 L330.47,141.6 L330.78,141.6 L331.09,141.6 L331.4,141.6 L331.71,141.6 L332.02,141.6 L332.33,141.6 L332.64,141.6 L332.95,141.6 L333.26,141.6 L333.57,141.6 L333.88,141.6 L334.19,141.6 L334.5,141.6 L334.81,141.6 L335.12,141.6 L335.44,141.6 L335.75,141.6 L336.06,141.6 L336.37,141.6 L336.68,141.6 L336.99,141.6 L337.3,141.6 L337.61,141.6 L337.92,141.6 L338.23,141.6 L338.54,141.6 L338.85,141.6 L339.16,141.6 L339.47,141.6 L339.78,141.6 L340.09,141.6 L340.4,141.6 L340.71,141.6 L341.02,141.6 L341.34,141.6 L341.65,141.6 L341.96,141.6 L342.27,141.6 L342.58,141.6 L342.89,141.6 L343.2,141.6 L343.51,141.6 L343.82,141.6 L344.13,141.6 L344.44,141.6 L344.75,141.6 L345.06,141.6 L345.37,141.6 L345.68,141.6 L345.99,141.6 L346.3,141.6 L346.61,141.6 L346.92,141.6 L347.23,141.6 L347.55,141.6 L347.86,141.6 L348.17,141.6 L348.48,141.6 L348.79,141.6 L349.1,141.6 L349.41,141.6 L349.72,141.6 L350.03,141.6 L350.34,141.6 L350.65,141.6 L350.96,141.6 L351.27,141.6 L351.58,141.6 L351.89,141.6 L352.2,141.6 L352.51,141.6 L352.82,141.6 L353.13,141.6 L353.44,141.6 L353.75,141.6 L354.07,141.6 L354.38,141.6 L354.69,141.6 L355,141.6 L355.31,141.6 L355.62,141.6 L355.93,141.6 L356.24,141.6 L356.55,141.6 L356.86,141.6 L357.17,138.54 L357.48,124.91 L357.79,113.71 L358.1,104.5 L358.41,96.93 L358.72,90.69 L359.03,85.55 L359.34,81.3 L359.65,77.79 L359.97,74.89 L360.28,72.48 L360.59,70.48 L360.9,68.81 L361.21,67.41 L361.52,66.24 L361.83,65.25 L362.14,64.42 L362.45,63.71 L362.76,63.1 L363.07,62.58 L363.38,62.13 L363.69,61.73 L364,61.39 L364.31,61.08 L364.62,60.81 L364.93,60.57 L365.24,60.35 L365.55,60.15 L365.86,59.96 L366.18,59.79 L366.49,59.64 L366.8,59.49 L367.11,59.35 L367.42,59.22 L367.73,59.09 L368.04,58.98 L368.35,58.86 L368.66,58.75 L368.97,58.65 L369.28,58.55 L369.59,58.45 L369.9,58.36 L370.21,58.27 L370.52,58.18 L370.83,58.09 L371.14,58.01 L371.45,57.93 L371.76,57.85 L372.07,57.77 L372.38,57.69 L372.7,57.62 L373.01,57.55 L373.32,57.48 L373.63,57.41 L373.94,57.34 L374.25,57.28 L374.56,57.21 L374.87,57.15 L375.18,57.09 L375.49,57.03 L375.8,56.97 L376.11,56.91 L376.42,56.86 L376.73,56.8 L377.04,56.75 L377.35,56.69 L377.66,56.64 L377.97,56.59 L378.28,56.54 L378.6,56.49 L378.91,56.44 L379.22,56.39 L379.53,56.35 L379.84,56.3 L380.15,56.26 L380.46,56.21 L380.77,56.17 L381.08,56.13 L381.39,56.08 L381.7,56.04 L382.01,56 L382.32,55.96 L382.63,55.92 L382.94,55.88 L383.25,55.85 L383.56,55.81 L383.87,55.77 L384.18,55.74 L384.49,55.7 L384.81,55.66 L385.12,55.63 L385.43,55.6 L385.74,55.56 L386.05,55.53 L386.36,55.49 L386.67,55.46 L386.98,55.43 L387.29,55.4 L387.6,55.37 L387.91,55.34 L388.22,55.31 L388.53,55.27 L388.84,55.24 L389.15,55.22 L389.46,55.19 L389.77,55.16 L390.08,55.13 L390.39,55.1 L390.7,55.07 L391.02,55.04 L391.33,55.02 L391.64,54.99 L391.95,54.96 L392.26,54.94 L392.57,54.91 L392.88,54.88 L393.19,54.86 L393.5,54.83 L393.81,54.81 L394.12,54.78 L394.43,54.75 L394.74,54.73 L395.05,54.7 L395.36,54.68 L395.67,54.66 L395.98,54.63 L396.29,54.61 L396.6,54.58 L396.91,54.56 L397.23,54.54 L397.54,54.51 L397.85,54.49 L398.16,54.47 L398.47,54.44 L398.78,54.42 L399.09,54.4 L399.4,54.37 L399.71,54.35 L400.02,54.33 L400.33,54.31 L400.64,54.29 L400.95,54.26 L401.26,54.24 L401.57,54.22 L401.88,54.2 L402.19,54.18 L402.5,54.15 L402.81,54.13 L403.12,54.11 L403.44,54.09 L403.75,54.07 L404.06,54.05 L404.37,54.03 L404.68,54.01 L404.99,53.98 L405.3,53.96 L405.61,53.94 L405.92,53.92 L406.23,53.9 L406.54,53.88 L406.85,53.86 L407.16,53.84 L407.47,53.82 L407.78,53.8 L408.09,53.78 L408.4,53.76 L408.71,53.74 L409.02,53.72 L409.33,53.7 L409.65,53.68 L409.96,53.66 L410.27,53.64 L410.58,53.62 L410.89,53.6 L411.2,53.58 L411.51,53.56 L411.82,53.54 L412.13,53.52 L412.44,53.5 L412.75,53.48 L413.06,53.46 L413.37,53.44 L413.68,53.42 L413.99,53.4 L414.3,53.38 L414.61,53.36 L414.92,53.34 L415.23,53.32 L415.54,53.3 L415.86,53.28 L416.17,53.27 L416.48,53.25 L416.79,53.23 L417.1,53.21 L417.41,53.19 L417.72,53.17 L418.03,53.15 L418.34,53.13 L418.65,53.11 L418.96,53.09 L419.27,53.07 L419.58,53.05 L419.89,53.03 L420.2,53.02 L420.51,53 L420.82,52.98 L421.13,52.96 L421.44,52.94 L421.75,52.92 L422.07,52.9 L422.38,52.88 L422.69,52.86 L423,52.84 L423.31,52.83 L423.62,52.81 L423.93,52.79 L424.24,52.77 L424.55,52.75 L424.86,52.73 L425.17,52.71 L425.48,52.69 L425.79,52.67 L426.1,52.66 L426.41,52.64 L426.72,52.62 L427.03,52.6 L427.34,52.58 L427.65,52.56 L427.96,52.54 L428.28,52.52 L428.59,52.5 L428.9,52.49 L429.21,52.47 L429.52,52.45 L429.83,52.43 L430.14,52.41 L430.45,52.39 L430.76,52.37 L431.07,52.35 L431.38,52.34 L431.69,52.32 L432,54.38 L432.31,63.43 L432.62,70.69 L432.93,76.6 L433.24,81.48 L433.55,85.58 L433.86,89.07 L434.17,92.1 L434.49,94.76 L434.8,97.12 L435.11,99.25 L435.42,101.19 L435.73,102.97 L436.04,104.62 L436.35,106.15 L436.66,107.59 L436.97,108.94 L437.28,110.2 L437.59,111.4 L437.9,112.54 L438.21,113.61 L438.52,114.64 L438.83,115.61 L439.14,116.53 L439.45,117.41 L439.76,118.25 L440.07,119.05 L440.38,119.81 L440.7,120.54 L441.01,121.23 L441.32,121.9 L441.63,122.53 L441.94,123.13 L442.25,123.71 L442.56,124.26 L442.87,124.79 L443.18,125.29 L443.49,125.77 L443.8,126.23 L444.11,126.67 L444.42,127.09 L444.73,127.49 L445.04,127.88 L445.35,128.25 L445.66,128.6 L445.97,128.94 L446.28,129.26 L446.59,129.57 L446.91,129.87 L447.22,130.15 L447.53,130.42 L447.84,130.68 L448.15,130.93 L448.46,131.17 L448.77,131.41 L449.08,131.63 L449.39,131.84 L449.7,132.04 L450.01,132.24 L450.32,132.43 L450.63,132.61 L450.94,132.78 L451.25,132.95 L451.56,133.11 L451.87,133.27 L452.18,133.42 L452.49,133.56 L452.8,133.7 L453.12,133.83 L453.43,133.96 L453.74,134.09 L454.05,134.21 L454.36,134.32 L454.67,134.44 L454.98,134.54 L455.29,134.65 L455.6,134.75 L455.91,134.85 L456.22,134.94 L456.53,135.03 L456.84,135.12 L457.15,135.21 L457.46,135.29 L457.77,135.37 L458.08,135.45 L458.39,135.52 L458.7,135.6 L459.01,135.67 L459.33,135.74 L459.64,135.8 L459.95,135.87 L460.26,135.93 L460.57,136 L460.88,136.06 L461.19,136.11 L461.5,136.17 L461.81,136.23 L462.12,136.28 L462.43,136.33 L462.74,136.39 L463.05,136.44 L463.36,136.49 L463.67,136.53 L463.98,136.58 L464.29,136.63 L464.6,136.67 L464.91,136.72 L465.22,136.76 L465.54,136.8 L465.85,136.84 L466.16,136.88 L466.47,136.92 L466.78,136.96 L467.09,137 L467.4,137.03 L467.71,137.07 L468.02,137.11 L468.33,137.14 L468.64,137.18 L468.95,137.21 L469.26,137.24 L469.57,137.27 L469.88,137.31 L470.19,137.34 L470.5,137.37 L470.81,137.4 L471.12,137.43 L471.43,137.46 L471.75,137.49 L472.06,137.52 L472.37,137.54 L472.68,137.57 L472.99,137.6 L473.3,137.63 L473.61,137.65 L473.92,137.68 L474.23,137.7 L474.54,137.73 L474.85,137.75 L475.16,137.78 L475.47,137.8 L475.78,137.83 L476.09,137.85 L476.4,137.87 L476.71,137.9 L477.02,137.92 L477.33,137.94 L477.64,137.96 L477.96,137.98 L478.27,138 L478.58,138.03 L478.89,138.05 L479.2,138.07 L479.51,138.09 L479.82,138.11 L480.13,138.13 L480.44,138.15 L480.75,138.17 L481.06,138.19 L481.37,138.2 L481.68,138.22 L481.99,138.24 L482.3,138.26 L482.61,138.28 L482.92,138.3 L483.23,138.31 L483.54,138.33 L483.85,138.35 L484.17,138.36 L484.48,138.38 L484.79,138.4 L485.1,138.41 L485.41,138.43 L485.72,138.45 L486.03,138.46 L486.34,138.48 L486.65,138.49 L486.96,138.51 L487.27,138.52 L487.58,138.54 L487.89,138.55 L488.2,138.57 L488.51,138.58 L488.82,138.6 L489.13,138.61 L489.44,138.63 L489.75,138.64 L490.06,138.65 L490.38,138.67 L490.69,138.68 L491,138.69 L491.31,138.71 L491.62,138.72 L491.93,138.73 L492.24,138.75 L492.55,138.76 L492.86,138.77 L493.17,138.78 L493.48,138.8 L493.79,138.81 L494.1,138.82 L494.41,138.83 L494.72,138.84 L495.03,138.86 L495.34,138.87 L495.65,138.88 L495.96,138.89 L496.27,138.9 L496.59,138.91 L496.9,138.92 L497.21,138.93 L497.52,138.95 L497.83,138.96 L498.14,138.97 L498.45,138.98 L498.76,138.99 L499.07,139 L499.38,139.01 L499.69,139.02 L500,139.03 L500.31,139.04 L500.62,139.05 L500.93,139.06 L501.24,139.07 L501.55,139.08 L501.86,139.08 L502.17,139.09 L502.48,139.1 L502.8,139.11 L503.11,139.12 L503.42,139.13 L503.73,139.14 L504.04,139.15 L504.35,139.16 L504.66,139.16 L504.97,139.17 L505.28,139.18 L505.59,139.19 L505.9,139.2" fill="none" stroke="#0a0aaa" stroke-width="2.2" stroke-linejoin="round"/>
<path d="M319.6,141.6 L319.91,141.6 L320.22,141.6 L320.53,141.6 L320.84,141.6 L321.15,141.6 L321.46,141.6 L321.77,141.6 L322.08,141.6 L322.39,141.6 L322.71,141.6 L323.02,141.6 L323.33,141.6 L323.64,141.6 L323.95,141.6 L324.26,141.6 L324.57,141.6 L324.88,141.6 L325.19,141.6 L325.5,141.6 L325.81,141.6 L326.12,141.6 L326.43,141.6 L326.74,141.6 L327.05,141.6 L327.36,141.6 L327.67,141.6 L327.98,141.6 L328.29,141.6 L328.6,141.6 L328.92,141.6 L329.23,141.6 L329.54,141.6 L329.85,141.6 L330.16,141.6 L330.47,141.6 L330.78,141.6 L331.09,141.6 L331.4,141.6 L331.71,141.6 L332.02,141.6 L332.33,141.6 L332.64,141.6 L332.95,141.6 L333.26,141.6 L333.57,141.6 L333.88,141.6 L334.19,141.6 L334.5,141.6 L334.81,141.6 L335.12,141.6 L335.44,141.6 L335.75,141.6 L336.06,141.6 L336.37,141.6 L336.68,141.6 L336.99,141.6 L337.3,141.6 L337.61,141.6 L337.92,141.6 L338.23,141.6 L338.54,141.6 L338.85,141.6 L339.16,141.6 L339.47,141.6 L339.78,141.6 L340.09,141.6 L340.4,141.6 L340.71,141.6 L341.02,141.6 L341.34,141.6 L341.65,141.6 L341.96,141.6 L342.27,141.6 L342.58,141.6 L342.89,141.6 L343.2,141.6 L343.51,141.6 L343.82,141.6 L344.13,141.6 L344.44,141.6 L344.75,141.6 L345.06,141.6 L345.37,141.6 L345.68,141.6 L345.99,141.6 L346.3,141.6 L346.61,141.6 L346.92,141.6 L347.23,141.6 L347.55,141.6 L347.86,141.6 L348.17,141.6 L348.48,141.6 L348.79,141.6 L349.1,141.6 L349.41,141.6 L349.72,141.6 L350.03,141.6 L350.34,141.6 L350.65,141.6 L350.96,141.6 L351.27,141.6 L351.58,141.6 L351.89,141.6 L352.2,141.6 L352.51,141.6 L352.82,141.6 L353.13,141.6 L353.44,141.6 L353.75,141.6 L354.07,141.6 L354.38,141.6 L354.69,141.6 L355,141.6 L355.31,141.6 L355.62,141.6 L355.93,141.6 L356.24,141.6 L356.55,141.6 L356.86,141.6 L357.17,139.53 L357.48,130.16 L357.79,122.27 L358.1,115.62 L358.41,110.01 L358.72,105.28 L359.03,101.29 L359.34,97.91 L359.65,95.06 L359.97,92.64 L360.28,90.58 L360.59,88.84 L360.9,87.36 L361.21,86.09 L361.52,85.01 L361.83,84.09 L362.14,83.29 L362.45,82.61 L362.76,82.02 L363.07,81.5 L363.38,81.06 L363.69,80.67 L364,80.32 L364.31,80.02 L364.62,79.75 L364.93,79.51 L365.24,79.29 L365.55,79.1 L365.86,78.92 L366.18,78.76 L366.49,78.61 L366.8,78.48 L367.11,78.35 L367.42,78.23 L367.73,78.12 L368.04,78.02 L368.35,77.92 L368.66,77.83 L368.97,77.74 L369.28,77.65 L369.59,77.57 L369.9,77.5 L370.21,77.42 L370.52,77.35 L370.83,77.28 L371.14,77.21 L371.45,77.15 L371.76,77.09 L372.07,77.03 L372.38,76.97 L372.7,76.91 L373.01,76.85 L373.32,76.8 L373.63,76.74 L373.94,76.69 L374.25,76.64 L374.56,76.59 L374.87,76.54 L375.18,76.49 L375.49,76.45 L375.8,76.4 L376.11,76.36 L376.42,76.31 L376.73,76.27 L377.04,76.23 L377.35,76.19 L377.66,76.15 L377.97,76.11 L378.28,76.07 L378.6,76.03 L378.91,75.99 L379.22,75.96 L379.53,75.92 L379.84,75.89 L380.15,75.85 L380.46,75.82 L380.77,75.78 L381.08,75.75 L381.39,75.72 L381.7,75.69 L382.01,75.66 L382.32,75.62 L382.63,75.59 L382.94,75.56 L383.25,75.54 L383.56,75.51 L383.87,75.48 L384.18,75.45 L384.49,75.42 L384.81,75.39 L385.12,75.37 L385.43,75.34 L385.74,75.32 L386.05,75.29 L386.36,75.26 L386.67,75.24 L386.98,75.21 L387.29,75.19 L387.6,75.17 L387.91,75.14 L388.22,75.12 L388.53,75.09 L388.84,75.07 L389.15,75.05 L389.46,75.03 L389.77,75 L390.08,74.98 L390.39,74.96 L390.7,74.94 L391.02,74.92 L391.33,74.9 L391.64,74.87 L391.95,74.85 L392.26,74.83 L392.57,74.81 L392.88,74.79 L393.19,74.77 L393.5,74.75 L393.81,74.73 L394.12,74.71 L394.43,74.69 L394.74,74.67 L395.05,74.66 L395.36,74.64 L395.67,74.62 L395.98,74.6 L396.29,74.58 L396.6,74.56 L396.91,74.54 L397.23,74.53 L397.54,74.51 L397.85,74.49 L398.16,74.47 L398.47,74.45 L398.78,74.44 L399.09,74.42 L399.4,74.4 L399.71,74.38 L400.02,74.37 L400.33,74.35 L400.64,74.33 L400.95,74.32 L401.26,74.3 L401.57,74.28 L401.88,74.26 L402.19,74.25 L402.5,74.23 L402.81,74.21 L403.12,74.2 L403.44,74.18 L403.75,74.17 L404.06,74.15 L404.37,74.13 L404.68,74.12 L404.99,74.1 L405.3,74.08 L405.61,74.07 L405.92,74.05 L406.23,74.04 L406.54,74.02 L406.85,74 L407.16,73.99 L407.47,73.97 L407.78,73.96 L408.09,73.94 L408.4,73.93 L408.71,73.91 L409.02,73.9 L409.33,73.88 L409.65,73.86 L409.96,73.85 L410.27,73.83 L410.58,73.82 L410.89,73.8 L411.2,73.79 L411.51,73.77 L411.82,73.76 L412.13,73.74 L412.44,73.73 L412.75,73.71 L413.06,73.7 L413.37,73.68 L413.68,73.67 L413.99,73.65 L414.3,73.64 L414.61,73.62 L414.92,73.61 L415.23,73.59 L415.54,73.58 L415.86,73.56 L416.17,73.55 L416.48,73.53 L416.79,73.52 L417.1,73.5 L417.41,73.49 L417.72,73.47 L418.03,73.46 L418.34,73.44 L418.65,73.43 L418.96,73.41 L419.27,73.4 L419.58,73.38 L419.89,73.37 L420.2,73.35 L420.51,73.34 L420.82,73.32 L421.13,73.31 L421.44,73.3 L421.75,73.28 L422.07,73.27 L422.38,73.25 L422.69,73.24 L423,73.22 L423.31,73.21 L423.62,73.19 L423.93,73.18 L424.24,73.16 L424.55,73.15 L424.86,73.13 L425.17,73.12 L425.48,73.11 L425.79,73.09 L426.1,73.08 L426.41,73.06 L426.72,73.05 L427.03,73.03 L427.34,73.02 L427.65,73 L427.96,72.99 L428.28,72.97 L428.59,72.96 L428.9,72.95 L429.21,72.93 L429.52,72.92 L429.83,72.9 L430.14,72.89 L430.45,72.87 L430.76,72.86 L431.07,72.84 L431.38,72.83 L431.69,72.82 L432,74.42 L432.31,81.46 L432.62,87.1 L432.93,91.7 L433.24,95.5 L433.55,98.69 L433.86,101.41 L434.17,103.76 L434.49,105.83 L434.8,107.67 L435.11,109.33 L435.42,110.83 L435.73,112.22 L436.04,113.5 L436.35,114.69 L436.66,115.81 L436.97,116.86 L437.28,117.84 L437.59,118.78 L437.9,119.66 L438.21,120.49 L438.52,121.29 L438.83,122.05 L439.14,122.76 L439.45,123.45 L439.76,124.1 L440.07,124.72 L440.38,125.32 L440.7,125.88 L441.01,126.42 L441.32,126.94 L441.63,127.43 L441.94,127.9 L442.25,128.35 L442.56,128.78 L442.87,129.18 L443.18,129.58 L443.49,129.95 L443.8,130.31 L444.11,130.65 L444.42,130.98 L444.73,131.29 L445.04,131.59 L445.35,131.88 L445.66,132.15 L445.97,132.41 L446.28,132.66 L446.59,132.91 L446.91,133.14 L447.22,133.36 L447.53,133.57 L447.84,133.77 L448.15,133.97 L448.46,134.15 L448.77,134.33 L449.08,134.51 L449.39,134.67 L449.7,134.83 L450.01,134.98 L450.32,135.13 L450.63,135.27 L450.94,135.41 L451.25,135.54 L451.56,135.66 L451.87,135.78 L452.18,135.9 L452.49,136.01 L452.8,136.12 L453.12,136.22 L453.43,136.32 L453.74,136.42 L454.05,136.51 L454.36,136.6 L454.67,136.69 L454.98,136.78 L455.29,136.86 L455.6,136.93 L455.91,137.01 L456.22,137.08 L456.53,137.16 L456.84,137.22 L457.15,137.29 L457.46,137.36 L457.77,137.42 L458.08,137.48 L458.39,137.54 L458.7,137.59 L459.01,137.65 L459.33,137.7 L459.64,137.76 L459.95,137.81 L460.26,137.86 L460.57,137.9 L460.88,137.95 L461.19,138 L461.5,138.04 L461.81,138.08 L462.12,138.13 L462.43,138.17 L462.74,138.21 L463.05,138.25 L463.36,138.29 L463.67,138.32 L463.98,138.36 L464.29,138.4 L464.6,138.43 L464.91,138.46 L465.22,138.5 L465.54,138.53 L465.85,138.56 L466.16,138.59 L466.47,138.62 L466.78,138.65 L467.09,138.68 L467.4,138.71 L467.71,138.74 L468.02,138.77 L468.33,138.8 L468.64,138.82 L468.95,138.85 L469.26,138.87 L469.57,138.9 L469.88,138.92 L470.19,138.95 L470.5,138.97 L470.81,139 L471.12,139.02 L471.43,139.04 L471.75,139.07 L472.06,139.09 L472.37,139.11 L472.68,139.13 L472.99,139.15 L473.3,139.17 L473.61,139.19 L473.92,139.21 L474.23,139.23 L474.54,139.25 L474.85,139.27 L475.16,139.29 L475.47,139.31 L475.78,139.33 L476.09,139.35 L476.4,139.36 L476.71,139.38 L477.02,139.4 L477.33,139.42 L477.64,139.43 L477.96,139.45 L478.27,139.47 L478.58,139.48 L478.89,139.5 L479.2,139.52 L479.51,139.53 L479.82,139.55 L480.13,139.56 L480.44,139.58 L480.75,139.59 L481.06,139.61 L481.37,139.62 L481.68,139.64 L481.99,139.65 L482.3,139.67 L482.61,139.68 L482.92,139.69 L483.23,139.71 L483.54,139.72 L483.85,139.73 L484.17,139.75 L484.48,139.76 L484.79,139.77 L485.1,139.79 L485.41,139.8 L485.72,139.81 L486.03,139.82 L486.34,139.84 L486.65,139.85 L486.96,139.86 L487.27,139.87 L487.58,139.88 L487.89,139.89 L488.2,139.91 L488.51,139.92 L488.82,139.93 L489.13,139.94 L489.44,139.95 L489.75,139.96 L490.06,139.97 L490.38,139.98 L490.69,139.99 L491,140 L491.31,140.01 L491.62,140.02 L491.93,140.03 L492.24,140.04 L492.55,140.05 L492.86,140.06 L493.17,140.07 L493.48,140.08 L493.79,140.09 L494.1,140.1 L494.41,140.11 L494.72,140.12 L495.03,140.13 L495.34,140.14 L495.65,140.15 L495.96,140.16 L496.27,140.16 L496.59,140.17 L496.9,140.18 L497.21,140.19 L497.52,140.2 L497.83,140.21 L498.14,140.22 L498.45,140.22 L498.76,140.23 L499.07,140.24 L499.38,140.25 L499.69,140.25 L500,140.26 L500.31,140.27 L500.62,140.28 L500.93,140.29 L501.24,140.29 L501.55,140.3 L501.86,140.31 L502.17,140.31 L502.48,140.32 L502.8,140.33 L503.11,140.34 L503.42,140.34 L503.73,140.35 L504.04,140.36 L504.35,140.36 L504.66,140.37 L504.97,140.38 L505.28,140.38 L505.59,140.39 L505.9,140.39" fill="none" stroke="#0a0aaa" stroke-width="2.2" stroke-linejoin="round"/>
<path d="M319.6,141.6 L319.91,141.6 L320.22,141.6 L320.53,141.6 L320.84,141.6 L321.15,141.6 L321.46,141.6 L321.77,141.6 L322.08,141.6 L322.39,141.6 L322.71,141.6 L323.02,141.6 L323.33,141.6 L323.64,141.6 L323.95,141.6 L324.26,141.6 L324.57,141.6 L324.88,141.6 L325.19,141.6 L325.5,141.6 L325.81,141.6 L326.12,141.6 L326.43,141.6 L326.74,141.6 L327.05,141.6 L327.36,141.6 L327.67,141.6 L327.98,141.6 L328.29,141.6 L328.6,141.6 L328.92,141.6 L329.23,141.6 L329.54,141.6 L329.85,141.6 L330.16,141.6 L330.47,141.6 L330.78,141.6 L331.09,141.6 L331.4,141.6 L331.71,141.6 L332.02,141.6 L332.33,141.6 L332.64,141.6 L332.95,141.6 L333.26,141.6 L333.57,141.6 L333.88,141.6 L334.19,141.6 L334.5,141.6 L334.81,141.6 L335.12,141.6 L335.44,141.6 L335.75,141.6 L336.06,141.6 L336.37,141.6 L336.68,141.6 L336.99,141.6 L337.3,141.6 L337.61,141.6 L337.92,141.6 L338.23,141.6 L338.54,141.6 L338.85,141.6 L339.16,141.6 L339.47,141.6 L339.78,141.6 L340.09,141.6 L340.4,141.6 L340.71,141.6 L341.02,141.6 L341.34,141.6 L341.65,141.6 L341.96,141.6 L342.27,141.6 L342.58,141.6 L342.89,141.6 L343.2,141.6 L343.51,141.6 L343.82,141.6 L344.13,141.6 L344.44,141.6 L344.75,141.6 L345.06,141.6 L345.37,141.6 L345.68,141.6 L345.99,141.6 L346.3,141.6 L346.61,141.6 L346.92,141.6 L347.23,141.6 L347.55,141.6 L347.86,141.6 L348.17,141.6 L348.48,141.6 L348.79,141.6 L349.1,141.6 L349.41,141.6 L349.72,141.6 L350.03,141.6 L350.34,141.6 L350.65,141.6 L350.96,141.6 L351.27,141.6 L351.58,141.6 L351.89,141.6 L352.2,141.6 L352.51,141.6 L352.82,141.6 L353.13,141.6 L353.44,141.6 L353.75,141.6 L354.07,141.6 L354.38,141.6 L354.69,141.6 L355,141.6 L355.31,141.6 L355.62,141.6 L355.93,141.6 L356.24,141.6 L356.55,141.6 L356.86,141.6 L357.17,140.33 L357.48,134.53 L357.79,129.51 L358.1,125.18 L358.41,121.44 L358.72,118.21 L359.03,115.41 L359.34,112.99 L359.65,110.89 L359.97,109.07 L360.28,107.49 L360.59,106.12 L360.9,104.93 L361.21,103.89 L361.52,102.99 L361.83,102.2 L362.14,101.51 L362.45,100.91 L362.76,100.38 L363.07,99.91 L363.38,99.5 L363.69,99.14 L364,98.82 L364.31,98.53 L364.62,98.28 L364.93,98.05 L365.24,97.84 L365.55,97.66 L365.86,97.49 L366.18,97.34 L366.49,97.21 L366.8,97.08 L367.11,96.97 L367.42,96.86 L367.73,96.76 L368.04,96.67 L368.35,96.59 L368.66,96.51 L368.97,96.43 L369.28,96.36 L369.59,96.29 L369.9,96.23 L370.21,96.17 L370.52,96.11 L370.83,96.06 L371.14,96.01 L371.45,95.96 L371.76,95.91 L372.07,95.86 L372.38,95.82 L372.7,95.77 L373.01,95.73 L373.32,95.69 L373.63,95.65 L373.94,95.61 L374.25,95.58 L374.56,95.54 L374.87,95.5 L375.18,95.47 L375.49,95.44 L375.8,95.4 L376.11,95.37 L376.42,95.34 L376.73,95.31 L377.04,95.28 L377.35,95.25 L377.66,95.22 L377.97,95.19 L378.28,95.17 L378.6,95.14 L378.91,95.11 L379.22,95.09 L379.53,95.06 L379.84,95.04 L380.15,95.01 L380.46,94.99 L380.77,94.96 L381.08,94.94 L381.39,94.92 L381.7,94.89 L382.01,94.87 L382.32,94.85 L382.63,94.83 L382.94,94.81 L383.25,94.79 L383.56,94.77 L383.87,94.75 L384.18,94.73 L384.49,94.71 L384.81,94.69 L385.12,94.67 L385.43,94.65 L385.74,94.63 L386.05,94.61 L386.36,94.59 L386.67,94.58 L386.98,94.56 L387.29,94.54 L387.6,94.52 L387.91,94.51 L388.22,94.49 L388.53,94.47 L388.84,94.46 L389.15,94.44 L389.46,94.42 L389.77,94.41 L390.08,94.39 L390.39,94.38 L390.7,94.36 L391.02,94.35 L391.33,94.33 L391.64,94.32 L391.95,94.3 L392.26,94.29 L392.57,94.27 L392.88,94.26 L393.19,94.25 L393.5,94.23 L393.81,94.22 L394.12,94.2 L394.43,94.19 L394.74,94.18 L395.05,94.16 L395.36,94.15 L395.67,94.14 L395.98,94.12 L396.29,94.11 L396.6,94.1 L396.91,94.08 L397.23,94.07 L397.54,94.06 L397.85,94.04 L398.16,94.03 L398.47,94.02 L398.78,94.01 L399.09,93.99 L399.4,93.98 L399.71,93.97 L400.02,93.96 L400.33,93.95 L400.64,93.93 L400.95,93.92 L401.26,93.91 L401.57,93.9 L401.88,93.89 L402.19,93.87 L402.5,93.86 L402.81,93.85 L403.12,93.84 L403.44,93.83 L403.75,93.82 L404.06,93.8 L404.37,93.79 L404.68,93.78 L404.99,93.77 L405.3,93.76 L405.61,93.75 L405.92,93.74 L406.23,93.72 L406.54,93.71 L406.85,93.7 L407.16,93.69 L407.47,93.68 L407.78,93.67 L408.09,93.66 L408.4,93.65 L408.71,93.63 L409.02,93.62 L409.33,93.61 L409.65,93.6 L409.96,93.59 L410.27,93.58 L410.58,93.57 L410.89,93.56 L411.2,93.55 L411.51,93.54 L411.82,93.53 L412.13,93.51 L412.44,93.5 L412.75,93.49 L413.06,93.48 L413.37,93.47 L413.68,93.46 L413.99,93.45 L414.3,93.44 L414.61,93.43 L414.92,93.42 L415.23,93.41 L415.54,93.4 L415.86,93.39 L416.17,93.38 L416.48,93.37 L416.79,93.36 L417.1,93.34 L417.41,93.33 L417.72,93.32 L418.03,93.31 L418.34,93.3 L418.65,93.29 L418.96,93.28 L419.27,93.27 L419.58,93.26 L419.89,93.25 L420.2,93.24 L420.51,93.23 L420.82,93.22 L421.13,93.21 L421.44,93.2 L421.75,93.19 L422.07,93.18 L422.38,93.17 L422.69,93.16 L423,93.15 L423.31,93.14 L423.62,93.13 L423.93,93.12 L424.24,93.11 L424.55,93.1 L424.86,93.08 L425.17,93.07 L425.48,93.06 L425.79,93.05 L426.1,93.04 L426.41,93.03 L426.72,93.02 L427.03,93.01 L427.34,93 L427.65,92.99 L427.96,92.98 L428.28,92.97 L428.59,92.96 L428.9,92.95 L429.21,92.94 L429.52,92.93 L429.83,92.92 L430.14,92.91 L430.45,92.9 L430.76,92.89 L431.07,92.88 L431.38,92.87 L431.69,92.86 L432,94.01 L432.31,99.05 L432.62,103.1 L432.93,106.4 L433.24,109.12 L433.55,111.41 L433.86,113.36 L434.17,115.05 L434.49,116.53 L434.8,117.85 L435.11,119.04 L435.42,120.12 L435.73,121.11 L436.04,122.03 L436.35,122.88 L436.66,123.68 L436.97,124.44 L437.28,125.14 L437.59,125.81 L437.9,126.44 L438.21,127.04 L438.52,127.61 L438.83,128.16 L439.14,128.67 L439.45,129.16 L439.76,129.63 L440.07,130.08 L440.38,130.5 L440.7,130.91 L441.01,131.29 L441.32,131.66 L441.63,132.02 L441.94,132.35 L442.25,132.67 L442.56,132.98 L442.87,133.28 L443.18,133.56 L443.49,133.82 L443.8,134.08 L444.11,134.33 L444.42,134.56 L444.73,134.78 L445.04,135 L445.35,135.2 L445.66,135.4 L445.97,135.59 L446.28,135.77 L446.59,135.94 L446.91,136.11 L447.22,136.27 L447.53,136.42 L447.84,136.56 L448.15,136.7 L448.46,136.84 L448.77,136.97 L449.08,137.09 L449.39,137.21 L449.7,137.32 L450.01,137.43 L450.32,137.54 L450.63,137.64 L450.94,137.74 L451.25,137.83 L451.56,137.92 L451.87,138.01 L452.18,138.09 L452.49,138.17 L452.8,138.25 L453.12,138.32 L453.43,138.39 L453.74,138.46 L454.05,138.53 L454.36,138.6 L454.67,138.66 L454.98,138.72 L455.29,138.78 L455.6,138.83 L455.91,138.89 L456.22,138.94 L456.53,138.99 L456.84,139.04 L457.15,139.09 L457.46,139.13 L457.77,139.18 L458.08,139.22 L458.39,139.26 L458.7,139.31 L459.01,139.34 L459.33,139.38 L459.64,139.42 L459.95,139.46 L460.26,139.49 L460.57,139.53 L460.88,139.56 L461.19,139.59 L461.5,139.63 L461.81,139.66 L462.12,139.69 L462.43,139.72 L462.74,139.75 L463.05,139.77 L463.36,139.8 L463.67,139.83 L463.98,139.85 L464.29,139.88 L464.6,139.9 L464.91,139.93 L465.22,139.95 L465.54,139.98 L465.85,140 L466.16,140.02 L466.47,140.04 L466.78,140.06 L467.09,140.09 L467.4,140.11 L467.71,140.13 L468.02,140.15 L468.33,140.17 L468.64,140.19 L468.95,140.2 L469.26,140.22 L469.57,140.24 L469.88,140.26 L470.19,140.28 L470.5,140.29 L470.81,140.31 L471.12,140.33 L471.43,140.34 L471.75,140.36 L472.06,140.38 L472.37,140.39 L472.68,140.41 L472.99,140.42 L473.3,140.44 L473.61,140.45 L473.92,140.47 L474.23,140.48 L474.54,140.49 L474.85,140.51 L475.16,140.52 L475.47,140.53 L475.78,140.55 L476.09,140.56 L476.4,140.57 L476.71,140.59 L477.02,140.6 L477.33,140.61 L477.64,140.62 L477.96,140.64 L478.27,140.65 L478.58,140.66 L478.89,140.67 L479.2,140.68 L479.51,140.69 L479.82,140.71 L480.13,140.72 L480.44,140.73 L480.75,140.74 L481.06,140.75 L481.37,140.76 L481.68,140.77 L481.99,140.78 L482.3,140.79 L482.61,140.8 L482.92,140.81 L483.23,140.82 L483.54,140.83 L483.85,140.84 L484.17,140.85 L484.48,140.86 L484.79,140.87 L485.1,140.88 L485.41,140.89 L485.72,140.89 L486.03,140.9 L486.34,140.91 L486.65,140.92 L486.96,140.93 L487.27,140.94 L487.58,140.95 L487.89,140.95 L488.2,140.96 L488.51,140.97 L488.82,140.98 L489.13,140.99 L489.44,140.99 L489.75,141 L490.06,141.01 L490.38,141.02 L490.69,141.03 L491,141.03 L491.31,141.04 L491.62,141.05 L491.93,141.05 L492.24,141.06 L492.55,141.07 L492.86,141.08 L493.17,141.08 L493.48,141.09 L493.79,141.1 L494.1,141.1 L494.41,141.11 L494.72,141.12 L495.03,141.12 L495.34,141.13 L495.65,141.14 L495.96,141.14 L496.27,141.15 L496.59,141.15 L496.9,141.16 L497.21,141.17 L497.52,141.17 L497.83,141.18 L498.14,141.18 L498.45,141.19 L498.76,141.2 L499.07,141.2 L499.38,141.21 L499.69,141.21 L500,141.22 L500.31,141.22 L500.62,141.23 L500.93,141.23 L501.24,141.24 L501.55,141.25 L501.86,141.25 L502.17,141.26 L502.48,141.26 L502.8,141.27 L503.11,141.27 L503.42,141.28 L503.73,141.28 L504.04,141.29 L504.35,141.29 L504.66,141.29 L504.97,141.3 L505.28,141.3 L505.59,141.31 L505.9,141.31" fill="none" stroke="#0a0aaa" stroke-width="2.2" stroke-linejoin="round"/>
<path d="M319.6,141.6 L319.91,141.6 L320.22,141.6 L320.53,141.6 L320.84,141.6 L321.15,141.6 L321.46,141.6 L321.77,141.6 L322.08,141.6 L322.39,141.6 L322.71,141.6 L323.02,141.6 L323.33,141.6 L323.64,141.6 L323.95,141.6 L324.26,141.6 L324.57,141.6 L324.88,141.6 L325.19,141.6 L325.5,141.6 L325.81,141.6 L326.12,141.6 L326.43,141.6 L326.74,141.6 L327.05,141.6 L327.36,141.6 L327.67,141.6 L327.98,141.6 L328.29,141.6 L328.6,141.6 L328.92,141.6 L329.23,141.6 L329.54,141.6 L329.85,141.6 L330.16,141.6 L330.47,141.6 L330.78,141.6 L331.09,141.6 L331.4,141.6 L331.71,141.6 L332.02,141.6 L332.33,141.6 L332.64,141.6 L332.95,141.6 L333.26,141.6 L333.57,141.6 L333.88,141.6 L334.19,141.6 L334.5,141.6 L334.81,141.6 L335.12,141.6 L335.44,141.6 L335.75,141.6 L336.06,141.6 L336.37,141.6 L336.68,141.6 L336.99,141.6 L337.3,141.6 L337.61,141.6 L337.92,141.6 L338.23,141.6 L338.54,141.6 L338.85,141.6 L339.16,141.6 L339.47,141.6 L339.78,141.6 L340.09,141.6 L340.4,141.6 L340.71,141.6 L341.02,141.6 L341.34,141.6 L341.65,141.6 L341.96,141.6 L342.27,141.6 L342.58,141.6 L342.89,141.6 L343.2,141.6 L343.51,141.6 L343.82,141.6 L344.13,141.6 L344.44,141.6 L344.75,141.6 L345.06,141.6 L345.37,141.6 L345.68,141.6 L345.99,141.6 L346.3,141.6 L346.61,141.6 L346.92,141.6 L347.23,141.6 L347.55,141.6 L347.86,141.6 L348.17,141.6 L348.48,141.6 L348.79,141.6 L349.1,141.6 L349.41,141.6 L349.72,141.6 L350.03,141.6 L350.34,141.6 L350.65,141.6 L350.96,141.6 L351.27,141.6 L351.58,141.6 L351.89,141.6 L352.2,141.6 L352.51,141.6 L352.82,141.6 L353.13,141.6 L353.44,141.6 L353.75,141.6 L354.07,141.6 L354.38,141.6 L354.69,141.6 L355,141.6 L355.31,141.6 L355.62,141.6 L355.93,141.6 L356.24,141.6 L356.55,141.6 L356.86,141.6 L357.17,140.96 L357.48,137.96 L357.79,135.27 L358.1,132.87 L358.41,130.73 L358.72,128.81 L359.03,127.09 L359.34,125.55 L359.65,124.17 L359.97,122.94 L360.28,121.84 L360.59,120.84 L360.9,119.96 L361.21,119.16 L361.52,118.44 L361.83,117.8 L362.14,117.22 L362.45,116.7 L362.76,116.23 L363.07,115.8 L363.38,115.42 L363.69,115.08 L364,114.76 L364.31,114.48 L364.62,114.23 L364.93,113.99 L365.24,113.78 L365.55,113.59 L365.86,113.42 L366.18,113.26 L366.49,113.11 L366.8,112.98 L367.11,112.86 L367.42,112.74 L367.73,112.64 L368.04,112.55 L368.35,112.46 L368.66,112.38 L368.97,112.3 L369.28,112.23 L369.59,112.16 L369.9,112.1 L370.21,112.05 L370.52,111.99 L370.83,111.94 L371.14,111.89 L371.45,111.85 L371.76,111.81 L372.07,111.77 L372.38,111.73 L372.7,111.69 L373.01,111.66 L373.32,111.62 L373.63,111.59 L373.94,111.56 L374.25,111.53 L374.56,111.5 L374.87,111.48 L375.18,111.45 L375.49,111.43 L375.8,111.4 L376.11,111.38 L376.42,111.36 L376.73,111.33 L377.04,111.31 L377.35,111.29 L377.66,111.27 L377.97,111.25 L378.28,111.23 L378.6,111.21 L378.91,111.19 L379.22,111.18 L379.53,111.16 L379.84,111.14 L380.15,111.13 L380.46,111.11 L380.77,111.09 L381.08,111.08 L381.39,111.06 L381.7,111.05 L382.01,111.03 L382.32,111.02 L382.63,111 L382.94,110.99 L383.25,110.98 L383.56,110.96 L383.87,110.95 L384.18,110.94 L384.49,110.92 L384.81,110.91 L385.12,110.9 L385.43,110.88 L385.74,110.87 L386.05,110.86 L386.36,110.85 L386.67,110.84 L386.98,110.83 L387.29,110.81 L387.6,110.8 L387.91,110.79 L388.22,110.78 L388.53,110.77 L388.84,110.76 L389.15,110.75 L389.46,110.74 L389.77,110.73 L390.08,110.72 L390.39,110.71 L390.7,110.7 L391.02,110.69 L391.33,110.68 L391.64,110.67 L391.95,110.66 L392.26,110.65 L392.57,110.64 L392.88,110.63 L393.19,110.62 L393.5,110.61 L393.81,110.6 L394.12,110.59 L394.43,110.58 L394.74,110.57 L395.05,110.57 L395.36,110.56 L395.67,110.55 L395.98,110.54 L396.29,110.53 L396.6,110.52 L396.91,110.51 L397.23,110.51 L397.54,110.5 L397.85,110.49 L398.16,110.48 L398.47,110.47 L398.78,110.46 L399.09,110.46 L399.4,110.45 L399.71,110.44 L400.02,110.43 L400.33,110.42 L400.64,110.42 L400.95,110.41 L401.26,110.4 L401.57,110.39 L401.88,110.38 L402.19,110.38 L402.5,110.37 L402.81,110.36 L403.12,110.35 L403.44,110.35 L403.75,110.34 L404.06,110.33 L404.37,110.32 L404.68,110.32 L404.99,110.31 L405.3,110.3 L405.61,110.29 L405.92,110.29 L406.23,110.28 L406.54,110.27 L406.85,110.26 L407.16,110.26 L407.47,110.25 L407.78,110.24 L408.09,110.24 L408.4,110.23 L408.71,110.22 L409.02,110.21 L409.33,110.21 L409.65,110.2 L409.96,110.19 L410.27,110.19 L410.58,110.18 L410.89,110.17 L411.2,110.16 L411.51,110.16 L411.82,110.15 L412.13,110.14 L412.44,110.14 L412.75,110.13 L413.06,110.12 L413.37,110.11 L413.68,110.11 L413.99,110.1 L414.3,110.09 L414.61,110.09 L414.92,110.08 L415.23,110.07 L415.54,110.07 L415.86,110.06 L416.17,110.05 L416.48,110.04 L416.79,110.04 L417.1,110.03 L417.41,110.02 L417.72,110.02 L418.03,110.01 L418.34,110 L418.65,110 L418.96,109.99 L419.27,109.98 L419.58,109.98 L419.89,109.97 L420.2,109.96 L420.51,109.96 L420.82,109.95 L421.13,109.94 L421.44,109.94 L421.75,109.93 L422.07,109.92 L422.38,109.92 L422.69,109.91 L423,109.9 L423.31,109.89 L423.62,109.89 L423.93,109.88 L424.24,109.87 L424.55,109.87 L424.86,109.86 L425.17,109.85 L425.48,109.85 L425.79,109.84 L426.1,109.83 L426.41,109.83 L426.72,109.82 L427.03,109.81 L427.34,109.81 L427.65,109.8 L427.96,109.79 L428.28,109.79 L428.59,109.78 L428.9,109.77 L429.21,109.77 L429.52,109.76 L429.83,109.75 L430.14,109.75 L430.45,109.74 L430.76,109.73 L431.07,109.73 L431.38,109.72 L431.69,109.71 L432,110.48 L432.31,113.83 L432.62,116.52 L432.93,118.71 L433.24,120.51 L433.55,122.03 L433.86,123.33 L434.17,124.45 L434.49,125.43 L434.8,126.31 L435.11,127.1 L435.42,127.82 L435.73,128.48 L436.04,129.09 L436.35,129.65 L436.66,130.18 L436.97,130.68 L437.28,131.15 L437.59,131.6 L437.9,132.02 L438.21,132.42 L438.52,132.79 L438.83,133.15 L439.14,133.5 L439.45,133.82 L439.76,134.13 L440.07,134.43 L440.38,134.71 L440.7,134.98 L441.01,135.24 L441.32,135.48 L441.63,135.72 L441.94,135.94 L442.25,136.15 L442.56,136.36 L442.87,136.55 L443.18,136.74 L443.49,136.92 L443.8,137.09 L444.11,137.25 L444.42,137.41 L444.73,137.56 L445.04,137.7 L445.35,137.84 L445.66,137.97 L445.97,138.09 L446.28,138.21 L446.59,138.33 L446.91,138.44 L447.22,138.54 L447.53,138.64 L447.84,138.74 L448.15,138.83 L448.46,138.92 L448.77,139.01 L449.08,139.09 L449.39,139.17 L449.7,139.24 L450.01,139.32 L450.32,139.38 L450.63,139.45 L450.94,139.52 L451.25,139.58 L451.56,139.64 L451.87,139.7 L452.18,139.75 L452.49,139.8 L452.8,139.86 L453.12,139.91 L453.43,139.95 L453.74,140 L454.05,140.04 L454.36,140.09 L454.67,140.13 L454.98,140.17 L455.29,140.21 L455.6,140.24 L455.91,140.28 L456.22,140.32 L456.53,140.35 L456.84,140.38 L457.15,140.41 L457.46,140.44 L457.77,140.47 L458.08,140.5 L458.39,140.53 L458.7,140.56 L459.01,140.58 L459.33,140.61 L459.64,140.64 L459.95,140.66 L460.26,140.68 L460.57,140.71 L460.88,140.73 L461.19,140.75 L461.5,140.77 L461.81,140.79 L462.12,140.81 L462.43,140.83 L462.74,140.85 L463.05,140.87 L463.36,140.89 L463.67,140.91 L463.98,140.92 L464.29,140.94 L464.6,140.96 L464.91,140.97 L465.22,140.99 L465.54,141 L465.85,141.02 L466.16,141.03 L466.47,141.05 L466.78,141.06 L467.09,141.08 L467.4,141.09 L467.71,141.1 L468.02,141.12 L468.33,141.13 L468.64,141.14 L468.95,141.16 L469.26,141.17 L469.57,141.18 L469.88,141.19 L470.19,141.2 L470.5,141.21 L470.81,141.23 L471.12,141.24 L471.43,141.25 L471.75,141.26 L472.06,141.27 L472.37,141.28 L472.68,141.29 L472.99,141.3 L473.3,141.31 L473.61,141.32 L473.92,141.33 L474.23,141.34 L474.54,141.35 L474.85,141.36 L475.16,141.37 L475.47,141.37 L475.78,141.38 L476.09,141.39 L476.4,141.4 L476.71,141.41 L477.02,141.42 L477.33,141.43 L477.64,141.43 L477.96,141.44 L478.27,141.45 L478.58,141.46 L478.89,141.47 L479.2,141.47 L479.51,141.48 L479.82,141.49 L480.13,141.5 L480.44,141.5 L480.75,141.51 L481.06,141.52 L481.37,141.52 L481.68,141.53 L481.99,141.54 L482.3,141.54 L482.61,141.55 L482.92,141.56 L483.23,141.56 L483.54,141.57 L483.85,141.58 L484.17,141.58 L484.48,141.59 L484.79,141.6 L485.1,141.6 L485.41,141.61 L485.72,141.61 L486.03,141.62 L486.34,141.63 L486.65,141.63 L486.96,141.64 L487.27,141.64 L487.58,141.65 L487.89,141.65 L488.2,141.66 L488.51,141.66 L488.82,141.67 L489.13,141.68 L489.44,141.68 L489.75,141.69 L490.06,141.69 L490.38,141.7 L490.69,141.7 L491,141.71 L491.31,141.71 L491.62,141.72 L491.93,141.72 L492.24,141.72 L492.55,141.73 L492.86,141.73 L493.17,141.74 L493.48,141.74 L493.79,141.75 L494.1,141.75 L494.41,141.76 L494.72,141.76 L495.03,141.77 L495.34,141.77 L495.65,141.77 L495.96,141.78 L496.27,141.78 L496.59,141.79 L496.9,141.79 L497.21,141.79 L497.52,141.8 L497.83,141.8 L498.14,141.81 L498.45,141.81 L498.76,141.81 L499.07,141.82 L499.38,141.82 L499.69,141.83 L500,141.83 L500.31,141.83 L500.62,141.84 L500.93,141.84 L501.24,141.84 L501.55,141.85 L501.86,141.85 L502.17,141.85 L502.48,141.86 L502.8,141.86 L503.11,141.86 L503.42,141.87 L503.73,141.87 L504.04,141.87 L504.35,141.88 L504.66,141.88 L504.97,141.88 L505.28,141.89 L505.59,141.89 L505.9,141.89" fill="none" stroke="#0a0aaa" stroke-width="2.2" stroke-linejoin="round"/>
<path d="M319.6,141.6 L319.91,141.6 L320.22,141.6 L320.53,141.6 L320.84,141.6 L321.15,141.6 L321.46,141.6 L321.77,141.6 L322.08,141.6 L322.39,141.6 L322.71,141.6 L323.02,141.6 L323.33,141.6 L323.64,141.6 L323.95,141.6 L324.26,141.6 L324.57,141.6 L324.88,141.6 L325.19,141.6 L325.5,141.6 L325.81,141.6 L326.12,141.6 L326.43,141.6 L326.74,141.6 L327.05,141.6 L327.36,141.6 L327.67,141.6 L327.98,141.6 L328.29,141.6 L328.6,141.6 L328.92,141.6 L329.23,141.6 L329.54,141.6 L329.85,141.6 L330.16,141.6 L330.47,141.6 L330.78,141.6 L331.09,141.6 L331.4,141.6 L331.71,141.6 L332.02,141.6 L332.33,141.6 L332.64,141.6 L332.95,141.6 L333.26,141.6 L333.57,141.6 L333.88,141.6 L334.19,141.6 L334.5,141.6 L334.81,141.6 L335.12,141.6 L335.44,141.6 L335.75,141.6 L336.06,141.6 L336.37,141.6 L336.68,141.6 L336.99,141.6 L337.3,141.6 L337.61,141.6 L337.92,141.6 L338.23,141.6 L338.54,141.6 L338.85,141.6 L339.16,141.6 L339.47,141.6 L339.78,141.6 L340.09,141.6 L340.4,141.6 L340.71,141.6 L341.02,141.6 L341.34,141.6 L341.65,141.6 L341.96,141.6 L342.27,141.6 L342.58,141.6 L342.89,141.6 L343.2,141.6 L343.51,141.6 L343.82,141.6 L344.13,141.6 L344.44,141.6 L344.75,141.6 L345.06,141.6 L345.37,141.6 L345.68,141.6 L345.99,141.6 L346.3,141.6 L346.61,141.6 L346.92,141.6 L347.23,141.6 L347.55,141.6 L347.86,141.6 L348.17,141.6 L348.48,141.6 L348.79,141.6 L349.1,141.6 L349.41,141.6 L349.72,141.6 L350.03,141.6 L350.34,141.6 L350.65,141.6 L350.96,141.6 L351.27,141.6 L351.58,141.6 L351.89,141.6 L352.2,141.6 L352.51,141.6 L352.82,141.6 L353.13,141.6 L353.44,141.6 L353.75,141.6 L354.07,141.6 L354.38,141.6 L354.69,141.6 L355,141.6 L355.31,141.6 L355.62,141.6 L355.93,141.6 L356.24,141.6 L356.55,141.6 L356.86,141.6 L357.17,141.38 L357.48,140.32 L357.79,139.33 L358.1,138.4 L358.41,137.52 L358.72,136.7 L359.03,135.93 L359.34,135.2 L359.65,134.52 L359.97,133.88 L360.28,133.28 L360.59,132.72 L360.9,132.18 L361.21,131.69 L361.52,131.22 L361.83,130.78 L362.14,130.36 L362.45,129.97 L362.76,129.61 L363.07,129.26 L363.38,128.94 L363.69,128.63 L364,128.35 L364.31,128.08 L364.62,127.82 L364.93,127.58 L365.24,127.36 L365.55,127.15 L365.86,126.95 L366.18,126.76 L366.49,126.58 L366.8,126.41 L367.11,126.26 L367.42,126.11 L367.73,125.97 L368.04,125.84 L368.35,125.71 L368.66,125.59 L368.97,125.48 L369.28,125.38 L369.59,125.28 L369.9,125.19 L370.21,125.1 L370.52,125.02 L370.83,124.94 L371.14,124.86 L371.45,124.79 L371.76,124.72 L372.07,124.66 L372.38,124.6 L372.7,124.54 L373.01,124.49 L373.32,124.44 L373.63,124.39 L373.94,124.34 L374.25,124.3 L374.56,124.26 L374.87,124.22 L375.18,124.18 L375.49,124.15 L375.8,124.11 L376.11,124.08 L376.42,124.05 L376.73,124.02 L377.04,123.99 L377.35,123.96 L377.66,123.94 L377.97,123.91 L378.28,123.89 L378.6,123.87 L378.91,123.85 L379.22,123.83 L379.53,123.81 L379.84,123.79 L380.15,123.77 L380.46,123.75 L380.77,123.73 L381.08,123.72 L381.39,123.7 L381.7,123.69 L382.01,123.67 L382.32,123.66 L382.63,123.65 L382.94,123.63 L383.25,123.62 L383.56,123.61 L383.87,123.6 L384.18,123.58 L384.49,123.57 L384.81,123.56 L385.12,123.55 L385.43,123.54 L385.74,123.53 L386.05,123.52 L386.36,123.51 L386.67,123.5 L386.98,123.5 L387.29,123.49 L387.6,123.48 L387.91,123.47 L388.22,123.46 L388.53,123.45 L388.84,123.45 L389.15,123.44 L389.46,123.43 L389.77,123.42 L390.08,123.42 L390.39,123.41 L390.7,123.4 L391.02,123.4 L391.33,123.39 L391.64,123.38 L391.95,123.38 L392.26,123.37 L392.57,123.36 L392.88,123.36 L393.19,123.35 L393.5,123.35 L393.81,123.34 L394.12,123.33 L394.43,123.33 L394.74,123.32 L395.05,123.32 L395.36,123.31 L395.67,123.31 L395.98,123.3 L396.29,123.3 L396.6,123.29 L396.91,123.29 L397.23,123.28 L397.54,123.28 L397.85,123.27 L398.16,123.26 L398.47,123.26 L398.78,123.25 L399.09,123.25 L399.4,123.24 L399.71,123.24 L400.02,123.24 L400.33,123.23 L400.64,123.23 L400.95,123.22 L401.26,123.22 L401.57,123.21 L401.88,123.21 L402.19,123.2 L402.5,123.2 L402.81,123.19 L403.12,123.19 L403.44,123.18 L403.75,123.18 L404.06,123.17 L404.37,123.17 L404.68,123.17 L404.99,123.16 L405.3,123.16 L405.61,123.15 L405.92,123.15 L406.23,123.14 L406.54,123.14 L406.85,123.13 L407.16,123.13 L407.47,123.13 L407.78,123.12 L408.09,123.12 L408.4,123.11 L408.71,123.11 L409.02,123.1 L409.33,123.1 L409.65,123.1 L409.96,123.09 L410.27,123.09 L410.58,123.08 L410.89,123.08 L411.2,123.08 L411.51,123.07 L411.82,123.07 L412.13,123.06 L412.44,123.06 L412.75,123.05 L413.06,123.05 L413.37,123.05 L413.68,123.04 L413.99,123.04 L414.3,123.03 L414.61,123.03 L414.92,123.03 L415.23,123.02 L415.54,123.02 L415.86,123.01 L416.17,123.01 L416.48,123.01 L416.79,123 L417.1,123 L417.41,122.99 L417.72,122.99 L418.03,122.98 L418.34,122.98 L418.65,122.98 L418.96,122.97 L419.27,122.97 L419.58,122.96 L419.89,122.96 L420.2,122.96 L420.51,122.95 L420.82,122.95 L421.13,122.94 L421.44,122.94 L421.75,122.94 L422.07,122.93 L422.38,122.93 L422.69,122.92 L423,122.92 L423.31,122.92 L423.62,122.91 L423.93,122.91 L424.24,122.9 L424.55,122.9 L424.86,122.9 L425.17,122.89 L425.48,122.89 L425.79,122.88 L426.1,122.88 L426.41,122.88 L426.72,122.87 L427.03,122.87 L427.34,122.86 L427.65,122.86 L427.96,122.86 L428.28,122.85 L428.59,122.85 L428.9,122.85 L429.21,122.84 L429.52,122.84 L429.83,122.83 L430.14,122.83 L430.45,122.83 L430.76,122.82 L431.07,122.82 L431.38,122.81 L431.69,122.81 L432,123.27 L432.31,125.29 L432.62,126.91 L432.93,128.23 L433.24,129.32 L433.55,130.24 L433.86,131.02 L434.17,131.7 L434.49,132.29 L434.8,132.82 L435.11,133.3 L435.42,133.73 L435.73,134.13 L436.04,134.49 L436.35,134.84 L436.66,135.16 L436.97,135.46 L437.28,135.74 L437.59,136.01 L437.9,136.26 L438.21,136.5 L438.52,136.73 L438.83,136.95 L439.14,137.16 L439.45,137.35 L439.76,137.54 L440.07,137.72 L440.38,137.89 L440.7,138.05 L441.01,138.21 L441.32,138.35 L441.63,138.5 L441.94,138.63 L442.25,138.76 L442.56,138.88 L442.87,139 L443.18,139.11 L443.49,139.22 L443.8,139.32 L444.11,139.42 L444.42,139.51 L444.73,139.6 L445.04,139.69 L445.35,139.77 L445.66,139.85 L445.97,139.93 L446.28,140 L446.59,140.07 L446.91,140.13 L447.22,140.2 L447.53,140.26 L447.84,140.32 L448.15,140.37 L448.46,140.43 L448.77,140.48 L449.08,140.53 L449.39,140.58 L449.7,140.62 L450.01,140.67 L450.32,140.71 L450.63,140.75 L450.94,140.79 L451.25,140.82 L451.56,140.86 L451.87,140.89 L452.18,140.93 L452.49,140.96 L452.8,140.99 L453.12,141.02 L453.43,141.05 L453.74,141.08 L454.05,141.1 L454.36,141.13 L454.67,141.16 L454.98,141.18 L455.29,141.2 L455.6,141.23 L455.91,141.25 L456.22,141.27 L456.53,141.29 L456.84,141.31 L457.15,141.33 L457.46,141.35 L457.77,141.36 L458.08,141.38 L458.39,141.4 L458.7,141.41 L459.01,141.43 L459.33,141.45 L459.64,141.46 L459.95,141.48 L460.26,141.49 L460.57,141.5 L460.88,141.52 L461.19,141.53 L461.5,141.54 L461.81,141.56 L462.12,141.57 L462.43,141.58 L462.74,141.59 L463.05,141.6 L463.36,141.61 L463.67,141.62 L463.98,141.63 L464.29,141.64 L464.6,141.65 L464.91,141.66 L465.22,141.67 L465.54,141.68 L465.85,141.69 L466.16,141.7 L466.47,141.71 L466.78,141.72 L467.09,141.73 L467.4,141.74 L467.71,141.74 L468.02,141.75 L468.33,141.76 L468.64,141.77 L468.95,141.78 L469.26,141.78 L469.57,141.79 L469.88,141.8 L470.19,141.8 L470.5,141.81 L470.81,141.82 L471.12,141.82 L471.43,141.83 L471.75,141.84 L472.06,141.84 L472.37,141.85 L472.68,141.86 L472.99,141.86 L473.3,141.87 L473.61,141.87 L473.92,141.88 L474.23,141.89 L474.54,141.89 L474.85,141.9 L475.16,141.9 L475.47,141.91 L475.78,141.91 L476.09,141.92 L476.4,141.92 L476.71,141.93 L477.02,141.93 L477.33,141.94 L477.64,141.94 L477.96,141.95 L478.27,141.95 L478.58,141.96 L478.89,141.96 L479.2,141.97 L479.51,141.97 L479.82,141.98 L480.13,141.98 L480.44,141.98 L480.75,141.99 L481.06,141.99 L481.37,142 L481.68,142 L481.99,142.01 L482.3,142.01 L482.61,142.01 L482.92,142.02 L483.23,142.02 L483.54,142.03 L483.85,142.03 L484.17,142.03 L484.48,142.04 L484.79,142.04 L485.1,142.04 L485.41,142.05 L485.72,142.05 L486.03,142.06 L486.34,142.06 L486.65,142.06 L486.96,142.07 L487.27,142.07 L487.58,142.07 L487.89,142.08 L488.2,142.08 L488.51,142.08 L488.82,142.09 L489.13,142.09 L489.44,142.09 L489.75,142.09 L490.06,142.1 L490.38,142.1 L490.69,142.1 L491,142.11 L491.31,142.11 L491.62,142.11 L491.93,142.12 L492.24,142.12 L492.55,142.12 L492.86,142.12 L493.17,142.13 L493.48,142.13 L493.79,142.13 L494.1,142.14 L494.41,142.14 L494.72,142.14 L495.03,142.14 L495.34,142.15 L495.65,142.15 L495.96,142.15 L496.27,142.15 L496.59,142.16 L496.9,142.16 L497.21,142.16 L497.52,142.16 L497.83,142.17 L498.14,142.17 L498.45,142.17 L498.76,142.17 L499.07,142.17 L499.38,142.18 L499.69,142.18 L500,142.18 L500.31,142.18 L500.62,142.19 L500.93,142.19 L501.24,142.19 L501.55,142.19 L501.86,142.19 L502.17,142.2 L502.48,142.2 L502.8,142.2 L503.11,142.2 L503.42,142.2 L503.73,142.21 L504.04,142.21 L504.35,142.21 L504.66,142.21 L504.97,142.21 L505.28,142.22 L505.59,142.22 L505.9,142.22" fill="none" stroke="#0a0aaa" stroke-width="2.2" stroke-linejoin="round"/>
<path d="M431.94,33.85 L432.25,45.19 L432.56,54.27 L432.87,61.63 L433.18,67.7 L433.49,72.78 L433.8,77.09 L434.11,80.81 L434.42,84.08 L434.73,86.97 L435.04,89.58 L435.35,91.94 L435.66,94.11 L435.98,96.11 L436.29,97.97 L436.6,99.71 L436.91,101.35 L437.22,102.88 L437.53,104.33 L437.84,105.71 L438.15,107.01 L438.46,108.25 L438.77,109.42 L439.08,110.54 L439.39,111.6 L439.7,112.62 L440.01,113.58 L440.32,114.51 L440.63,115.38 L440.94,116.22 L441.25,117.02 L441.56,117.79 L441.87,118.52 L442.19,119.21 L442.5,119.88 L442.81,120.52 L443.12,121.12 L443.43,121.7 L443.74,122.26 L444.05,122.79 L444.36,123.3 L444.67,123.79 L444.98,124.25 L445.29,124.7 L445.6,125.12 L445.91,125.53 L446.22,125.92 L446.53,126.29 L446.84,126.65 L447.15,127 L447.46,127.32 L447.77,127.64 L448.08,127.94 L448.4,128.23 L448.71,128.51 L449.02,128.78 L449.33,129.04 L449.64,129.28 L449.95,129.52 L450.26,129.75 L450.57,129.97 L450.88,130.18 L451.19,130.38 L451.5,130.57 L451.81,130.76 L452.12,130.94 L452.43,131.11 L452.74,131.28 L453.05,131.44 L453.36,131.6 L453.67,131.75 L453.98,131.89 L454.29,132.03 L454.61,132.17 L454.92,132.3 L455.23,132.42 L455.54,132.55 L455.85,132.66 L456.16,132.78 L456.47,132.89 L456.78,132.99 L457.09,133.1 L457.4,133.2 L457.71,133.29 L458.02,133.39 L458.33,133.48 L458.64,133.57 L458.95,133.65 L459.26,133.74 L459.57,133.82 L459.88,133.9 L460.19,133.97 L460.5,134.05 L460.82,134.12 L461.13,134.19 L461.44,134.26 L461.75,134.33 L462.06,134.39 L462.37,134.46 L462.68,134.52 L462.99,134.58 L463.3,134.64 L463.61,134.7 L463.92,134.75 L464.23,134.81 L464.54,134.86 L464.85,134.91 L465.16,134.97 L465.47,135.02 L465.78,135.06 L466.09,135.11 L466.4,135.16 L466.71,135.21 L467.03,135.25 L467.34,135.3 L467.65,135.34 L467.96,135.38 L468.27,135.43 L468.58,135.47 L468.89,135.51 L469.2,135.55 L469.51,135.59 L469.82,135.62 L470.13,135.66 L470.44,135.7 L470.75,135.74 L471.06,135.77 L471.37,135.81 L471.68,135.84 L471.99,135.88 L472.3,135.91 L472.61,135.94 L472.92,135.98 L473.24,136.01 L473.55,136.04 L473.86,136.07 L474.17,136.1 L474.48,136.13 L474.79,136.16 L475.1,136.19 L475.41,136.22 L475.72,136.25 L476.03,136.28 L476.34,136.3 L476.65,136.33 L476.96,136.36 L477.27,136.38 L477.58,136.41 L477.89,136.44 L478.2,136.46 L478.51,136.49 L478.82,136.51 L479.13,136.54 L479.45,136.56 L479.76,136.59 L480.07,136.61 L480.38,136.63 L480.69,136.66 L481,136.68 L481.31,136.7 L481.62,136.73 L481.93,136.75 L482.24,136.77 L482.55,136.79 L482.86,136.81 L483.17,136.83 L483.48,136.85 L483.79,136.87 L484.1,136.9 L484.41,136.92 L484.72,136.94 L485.03,136.95 L485.34,136.97 L485.66,136.99 L485.97,137.01 L486.28,137.03 L486.59,137.05 L486.9,137.07 L487.21,137.09 L487.52,137.1 L487.83,137.12 L488.14,137.14 L488.45,137.16 L488.76,137.18 L489.07,137.19 L489.38,137.21 L489.69,137.23 L490,137.24 L490.31,137.26 L490.62,137.27 L490.93,137.29 L491.24,137.31 L491.55,137.32 L491.87,137.34 L492.18,137.35 L492.49,137.37 L492.8,137.38 L493.11,137.4 L493.42,137.41 L493.73,137.43 L494.04,137.44 L494.35,137.46 L494.66,137.47 L494.97,137.48 L495.28,137.5 L495.59,137.51 L495.9,137.53 L496.21,137.54 L496.52,137.55 L496.83,137.57 L497.14,137.58 L497.45,137.59 L497.76,137.6 L498.08,137.62 L498.39,137.63 L498.7,137.64 L499.01,137.65 L499.32,137.67 L499.63,137.68 L499.94,137.69 L500.25,137.7 L500.56,137.71 L500.87,137.72 L501.18,137.74 L501.49,137.75 L501.8,137.76 L502.11,137.77 L502.42,137.78 L502.73,137.79 L503.04,137.8 L503.35,137.81 L503.66,137.82 L503.97,137.83 L504.29,137.84 L504.6,137.85 L504.91,137.86 L505.22,137.87 L505.53,137.88 L505.84,137.89 L505.84,142.22 L505.53,142.22 L505.22,142.22 L504.91,142.21 L504.6,142.21 L504.29,142.21 L503.97,142.21 L503.66,142.21 L503.35,142.2 L503.04,142.2 L502.73,142.2 L502.42,142.2 L502.11,142.2 L501.8,142.19 L501.49,142.19 L501.18,142.19 L500.87,142.19 L500.56,142.19 L500.25,142.18 L499.94,142.18 L499.63,142.18 L499.32,142.18 L499.01,142.17 L498.7,142.17 L498.39,142.17 L498.08,142.17 L497.76,142.16 L497.45,142.16 L497.14,142.16 L496.83,142.16 L496.52,142.16 L496.21,142.15 L495.9,142.15 L495.59,142.15 L495.28,142.15 L494.97,142.14 L494.66,142.14 L494.35,142.14 L494.04,142.13 L493.73,142.13 L493.42,142.13 L493.11,142.13 L492.8,142.12 L492.49,142.12 L492.18,142.12 L491.87,142.12 L491.55,142.11 L491.24,142.11 L490.93,142.11 L490.62,142.1 L490.31,142.1 L490,142.1 L489.69,142.09 L489.38,142.09 L489.07,142.09 L488.76,142.08 L488.45,142.08 L488.14,142.08 L487.83,142.07 L487.52,142.07 L487.21,142.07 L486.9,142.06 L486.59,142.06 L486.28,142.06 L485.97,142.05 L485.66,142.05 L485.34,142.05 L485.03,142.04 L484.72,142.04 L484.41,142.04 L484.1,142.03 L483.79,142.03 L483.48,142.02 L483.17,142.02 L482.86,142.02 L482.55,142.01 L482.24,142.01 L481.93,142 L481.62,142 L481.31,142 L481,141.99 L480.69,141.99 L480.38,141.98 L480.07,141.98 L479.76,141.97 L479.45,141.97 L479.13,141.97 L478.82,141.96 L478.51,141.96 L478.2,141.95 L477.89,141.95 L477.58,141.94 L477.27,141.94 L476.96,141.93 L476.65,141.93 L476.34,141.92 L476.03,141.92 L475.72,141.91 L475.41,141.91 L475.1,141.9 L474.79,141.9 L474.48,141.89 L474.17,141.88 L473.86,141.88 L473.55,141.87 L473.24,141.87 L472.92,141.86 L472.61,141.85 L472.3,141.85 L471.99,141.84 L471.68,141.84 L471.37,141.83 L471.06,141.82 L470.75,141.82 L470.44,141.81 L470.13,141.8 L469.82,141.8 L469.51,141.79 L469.2,141.78 L468.89,141.77 L468.58,141.77 L468.27,141.76 L467.96,141.75 L467.65,141.74 L467.34,141.73 L467.03,141.73 L466.71,141.72 L466.4,141.71 L466.09,141.7 L465.78,141.69 L465.47,141.68 L465.16,141.67 L464.85,141.66 L464.54,141.65 L464.23,141.64 L463.92,141.63 L463.61,141.62 L463.3,141.61 L462.99,141.6 L462.68,141.59 L462.37,141.58 L462.06,141.57 L461.75,141.55 L461.44,141.54 L461.13,141.53 L460.82,141.51 L460.5,141.5 L460.19,141.49 L459.88,141.47 L459.57,141.46 L459.26,141.44 L458.95,141.43 L458.64,141.41 L458.33,141.4 L458.02,141.38 L457.71,141.36 L457.4,141.34 L457.09,141.32 L456.78,141.3 L456.47,141.28 L456.16,141.26 L455.85,141.24 L455.54,141.22 L455.23,141.2 L454.92,141.17 L454.61,141.15 L454.29,141.13 L453.98,141.1 L453.67,141.07 L453.36,141.04 L453.05,141.02 L452.74,140.99 L452.43,140.95 L452.12,140.92 L451.81,140.89 L451.5,140.85 L451.19,140.82 L450.88,140.78 L450.57,140.74 L450.26,140.7 L449.95,140.66 L449.64,140.61 L449.33,140.57 L449.02,140.52 L448.71,140.47 L448.4,140.42 L448.08,140.36 L447.77,140.31 L447.46,140.25 L447.15,140.19 L446.84,140.12 L446.53,140.05 L446.22,139.98 L445.91,139.91 L445.6,139.84 L445.29,139.76 L444.98,139.67 L444.67,139.59 L444.36,139.5 L444.05,139.4 L443.74,139.3 L443.43,139.2 L443.12,139.09 L442.81,138.98 L442.5,138.86 L442.19,138.73 L441.87,138.6 L441.56,138.47 L441.25,138.32 L440.94,138.18 L440.63,138.02 L440.32,137.86 L440.01,137.68 L439.7,137.5 L439.39,137.31 L439.08,137.12 L438.77,136.91 L438.46,136.69 L438.15,136.46 L437.84,136.21 L437.53,135.96 L437.22,135.69 L436.91,135.4 L436.6,135.1 L436.29,134.77 L435.98,134.42 L435.66,134.05 L435.35,133.65 L435.04,133.2 L434.73,132.72 L434.42,132.18 L434.11,131.57 L433.8,130.87 L433.49,130.07 L433.18,129.12 L432.87,127.99 L432.56,126.62 L432.25,124.92 L431.94,122.81 Z" fill="#0a0aaa" stroke="none"/>
<path d="M105.5,142.3 L105.5,146.6" stroke="#000" stroke-width="2.2" fill="none"/>
<path d="M179.2,79.5 L180.1,76.4 L180.9,80" stroke="#000" stroke-width="2.0" fill="none" stroke-linejoin="round"/>
<path d="M180.6,138 L181.3,143.4 L183,142.6" stroke="#000" stroke-width="2.2" fill="none"/>
<line x1="66.5" y1="26.1" x2="66.5" y2="153.5" stroke="#000" stroke-width="2.6"/>
<line x1="61.9" y1="142.3" x2="66.5" y2="142.3" stroke="#000" stroke-width="2.4"/>
<line x1="61.9" y1="119.3" x2="66.5" y2="119.3" stroke="#000" stroke-width="2.4"/>
<line x1="61.9" y1="96.3" x2="66.5" y2="96.3" stroke="#000" stroke-width="2.4"/>
<line x1="61.9" y1="73.3" x2="66.5" y2="73.3" stroke="#000" stroke-width="2.4"/>
<line x1="61.9" y1="50.3" x2="66.5" y2="50.3" stroke="#000" stroke-width="2.4"/>
<line x1="61.9" y1="27.3" x2="66.5" y2="27.3" stroke="#000" stroke-width="2.4"/>
<line x1="65.2" y1="153.5" x2="257.2" y2="153.5" stroke="#000" stroke-width="2.6"/>
<line x1="66.5" y1="153.5" x2="66.5" y2="157.7" stroke="#000" stroke-width="2.4"/>
<line x1="129.72" y1="153.5" x2="129.72" y2="157.7" stroke="#000" stroke-width="2.4"/>
<line x1="192.94" y1="153.5" x2="192.94" y2="157.7" stroke="#000" stroke-width="2.4"/>
<line x1="256.16" y1="153.5" x2="256.16" y2="157.7" stroke="#000" stroke-width="2.4"/>
<path d="M356.6,141.3 L357.3,143.2 L358.2,140" stroke="#0a0aaa" stroke-width="2" fill="none"/>
<line x1="319.6" y1="26.5" x2="319.6" y2="152.4" stroke="#000" stroke-width="2.6"/>
<line x1="315" y1="141.6" x2="319.6" y2="141.6" stroke="#000" stroke-width="2.4"/>
<line x1="315" y1="118.82" x2="319.6" y2="118.82" stroke="#000" stroke-width="2.4"/>
<line x1="315" y1="96.04" x2="319.6" y2="96.04" stroke="#000" stroke-width="2.4"/>
<line x1="315" y1="73.26" x2="319.6" y2="73.26" stroke="#000" stroke-width="2.4"/>
<line x1="315" y1="50.48" x2="319.6" y2="50.48" stroke="#000" stroke-width="2.4"/>
<line x1="315" y1="27.7" x2="319.6" y2="27.7" stroke="#000" stroke-width="2.4"/>
<line x1="318.3" y1="152.4" x2="507" y2="152.4" stroke="#000" stroke-width="2.6"/>
<line x1="319.6" y1="152.4" x2="319.6" y2="156.6" stroke="#000" stroke-width="2.4"/>
<line x1="381.7" y1="152.4" x2="381.7" y2="156.6" stroke="#000" stroke-width="2.4"/>
<line x1="443.8" y1="152.4" x2="443.8" y2="156.6" stroke="#000" stroke-width="2.4"/>
<line x1="505.9" y1="152.4" x2="505.9" y2="156.6" stroke="#000" stroke-width="2.4"/>
<rect x="55.1" y="258.2" width="9.87" height="235.2" fill="#000000"/>
<line x1="59.73" y1="255.4" x2="59.73" y2="258.2" stroke="#000000" stroke-width="1.6"/>
<line x1="57.34" y1="256.1" x2="62.13" y2="256.1" stroke="#000000" stroke-width="1.5"/>
<rect x="64.37" y="236.2" width="9.87" height="257.2" fill="#06a106"/>
<line x1="69.01" y1="226.9" x2="69.01" y2="236.2" stroke="#06a106" stroke-width="1.6"/>
<line x1="66.61" y1="227.6" x2="71.41" y2="227.6" stroke="#06a106" stroke-width="1.5"/>
<rect x="73.64" y="221.1" width="9.87" height="272.3" fill="#717000"/>
<line x1="78.28" y1="209.2" x2="78.28" y2="221.1" stroke="#717000" stroke-width="1.6"/>
<line x1="75.88" y1="209.9" x2="80.68" y2="209.9" stroke="#717000" stroke-width="1.5"/>
<rect x="82.91" y="298.5" width="9.87" height="194.9" fill="#0000a6"/>
<line x1="87.55" y1="297.5" x2="87.55" y2="298.5" stroke="#0000a6" stroke-width="1.6"/>
<line x1="85.14" y1="298.2" x2="89.95" y2="298.2" stroke="#0000a6" stroke-width="1.5"/>
<rect x="92.18" y="258.2" width="9.87" height="235.2" fill="#980000"/>
<line x1="96.82" y1="253.9" x2="96.82" y2="258.2" stroke="#980000" stroke-width="1.6"/>
<line x1="94.42" y1="254.6" x2="99.22" y2="254.6" stroke="#980000" stroke-width="1.5"/>
<rect x="101.45" y="237.4" width="9.87" height="256" fill="#69b9f9"/>
<line x1="106.08" y1="231.8" x2="106.08" y2="237.4" stroke="#69b9f9" stroke-width="1.6"/>
<line x1="103.68" y1="232.5" x2="108.48" y2="232.5" stroke="#69b9f9" stroke-width="1.5"/>
<rect x="110.72" y="258.2" width="9.27" height="235.2" fill="#647c73"/>
<line x1="115.36" y1="252.4" x2="115.36" y2="258.2" stroke="#647c73" stroke-width="1.6"/>
<line x1="112.95" y1="253.1" x2="117.76" y2="253.1" stroke="#647c73" stroke-width="1.5"/>
<rect x="127.26" y="441.3" width="9.87" height="52.1" fill="#000000"/>
<line x1="131.89" y1="440.3" x2="131.89" y2="441.3" stroke="#000000" stroke-width="1.6"/>
<line x1="129.49" y1="441" x2="134.29" y2="441" stroke="#000000" stroke-width="1.5"/>
<rect x="136.53" y="436.6" width="9.87" height="56.8" fill="#06a106"/>
<line x1="141.16" y1="435.4" x2="141.16" y2="436.6" stroke="#06a106" stroke-width="1.6"/>
<line x1="138.76" y1="436.1" x2="143.56" y2="436.1" stroke="#06a106" stroke-width="1.5"/>
<rect x="145.8" y="414" width="9.87" height="79.4" fill="#717000"/>
<line x1="150.43" y1="412" x2="150.43" y2="414" stroke="#717000" stroke-width="1.6"/>
<line x1="148.03" y1="412.7" x2="152.83" y2="412.7" stroke="#717000" stroke-width="1.5"/>
<rect x="155.07" y="403" width="9.87" height="90.4" fill="#0000a6"/>
<line x1="159.7" y1="401" x2="159.7" y2="403" stroke="#0000a6" stroke-width="1.6"/>
<line x1="157.3" y1="401.7" x2="162.1" y2="401.7" stroke="#0000a6" stroke-width="1.5"/>
<rect x="164.34" y="394.7" width="9.87" height="98.7" fill="#980000"/>
<line x1="168.97" y1="393" x2="168.97" y2="394.7" stroke="#980000" stroke-width="1.6"/>
<line x1="166.57" y1="393.7" x2="171.37" y2="393.7" stroke="#980000" stroke-width="1.5"/>
<rect x="173.61" y="370.6" width="9.87" height="122.8" fill="#69b9f9"/>
<line x1="178.24" y1="365.6" x2="178.24" y2="370.6" stroke="#69b9f9" stroke-width="1.6"/>
<line x1="175.84" y1="366.3" x2="180.64" y2="366.3" stroke="#69b9f9" stroke-width="1.5"/>
<rect x="182.88" y="446" width="9.27" height="47.4" fill="#647c73"/>
<line x1="187.51" y1="445" x2="187.51" y2="446" stroke="#647c73" stroke-width="1.6"/>
<line x1="185.11" y1="445.7" x2="189.91" y2="445.7" stroke="#647c73" stroke-width="1.5"/>
<rect x="199.42" y="442.5" width="9.87" height="50.9" fill="#000000"/>
<line x1="204.05" y1="441" x2="204.05" y2="442.5" stroke="#000000" stroke-width="1.6"/>
<line x1="201.65" y1="441.7" x2="206.45" y2="441.7" stroke="#000000" stroke-width="1.5"/>
<rect x="208.69" y="430.6" width="9.87" height="62.8" fill="#06a106"/>
<line x1="213.32" y1="429.6" x2="213.32" y2="430.6" stroke="#06a106" stroke-width="1.6"/>
<line x1="210.92" y1="430.3" x2="215.72" y2="430.3" stroke="#06a106" stroke-width="1.5"/>
<rect x="217.96" y="400.9" width="9.87" height="92.5" fill="#717000"/>
<line x1="222.59" y1="396.4" x2="222.59" y2="400.9" stroke="#717000" stroke-width="1.6"/>
<line x1="220.19" y1="397.1" x2="224.99" y2="397.1" stroke="#717000" stroke-width="1.5"/>
<rect x="227.23" y="407.1" width="9.87" height="86.3" fill="#0000a6"/>
<line x1="231.86" y1="406" x2="231.86" y2="407.1" stroke="#0000a6" stroke-width="1.6"/>
<line x1="229.46" y1="406.7" x2="234.26" y2="406.7" stroke="#0000a6" stroke-width="1.5"/>
<rect x="236.5" y="399.4" width="9.87" height="94" fill="#980000"/>
<line x1="241.13" y1="398.4" x2="241.13" y2="399.4" stroke="#980000" stroke-width="1.6"/>
<line x1="238.73" y1="399.1" x2="243.53" y2="399.1" stroke="#980000" stroke-width="1.5"/>
<rect x="245.77" y="355.4" width="9.87" height="138" fill="#69b9f9"/>
<line x1="250.4" y1="347.6" x2="250.4" y2="355.4" stroke="#69b9f9" stroke-width="1.6"/>
<line x1="248" y1="348.3" x2="252.8" y2="348.3" stroke="#69b9f9" stroke-width="1.5"/>
<rect x="255.04" y="425.2" width="9.27" height="68.2" fill="#647c73"/>
<line x1="259.68" y1="423.6" x2="259.68" y2="425.2" stroke="#647c73" stroke-width="1.6"/>
<line x1="257.28" y1="424.3" x2="262.07" y2="424.3" stroke="#647c73" stroke-width="1.5"/>
<rect x="271.58" y="462.1" width="9.87" height="31.3" fill="#000000"/>
<line x1="276.21" y1="460.3" x2="276.21" y2="462.1" stroke="#000000" stroke-width="1.6"/>
<line x1="273.81" y1="461" x2="278.61" y2="461" stroke="#000000" stroke-width="1.5"/>
<rect x="280.85" y="455.9" width="9.87" height="37.5" fill="#06a106"/>
<line x1="285.48" y1="454.3" x2="285.48" y2="455.9" stroke="#06a106" stroke-width="1.6"/>
<line x1="283.08" y1="455" x2="287.88" y2="455" stroke="#06a106" stroke-width="1.5"/>
<rect x="290.12" y="407.7" width="9.87" height="85.7" fill="#717000"/>
<line x1="294.75" y1="405.9" x2="294.75" y2="407.7" stroke="#717000" stroke-width="1.6"/>
<line x1="292.36" y1="406.6" x2="297.15" y2="406.6" stroke="#717000" stroke-width="1.5"/>
<rect x="299.39" y="459" width="9.87" height="34.4" fill="#0000a6"/>
<line x1="304.02" y1="458" x2="304.02" y2="459" stroke="#0000a6" stroke-width="1.6"/>
<line x1="301.62" y1="458.7" x2="306.42" y2="458.7" stroke="#0000a6" stroke-width="1.5"/>
<rect x="308.66" y="440.8" width="9.87" height="52.6" fill="#980000"/>
<line x1="313.29" y1="439.8" x2="313.29" y2="440.8" stroke="#980000" stroke-width="1.6"/>
<line x1="310.89" y1="440.5" x2="315.69" y2="440.5" stroke="#980000" stroke-width="1.5"/>
<rect x="317.93" y="407.7" width="9.87" height="85.7" fill="#69b9f9"/>
<line x1="322.56" y1="406.4" x2="322.56" y2="407.7" stroke="#69b9f9" stroke-width="1.6"/>
<line x1="320.16" y1="407.1" x2="324.96" y2="407.1" stroke="#69b9f9" stroke-width="1.5"/>
<rect x="327.2" y="462.9" width="9.27" height="30.5" fill="#647c73"/>
<line x1="331.83" y1="457.2" x2="331.83" y2="462.9" stroke="#647c73" stroke-width="1.6"/>
<line x1="329.44" y1="457.9" x2="334.23" y2="457.9" stroke="#647c73" stroke-width="1.5"/>
<rect x="343.74" y="418.8" width="9.87" height="74.6" fill="#000000"/>
<line x1="348.38" y1="416.7" x2="348.38" y2="418.8" stroke="#000000" stroke-width="1.6"/>
<line x1="345.98" y1="417.4" x2="350.77" y2="417.4" stroke="#000000" stroke-width="1.5"/>
<rect x="353.01" y="384" width="9.87" height="109.4" fill="#06a106"/>
<line x1="357.64" y1="381" x2="357.64" y2="384" stroke="#06a106" stroke-width="1.6"/>
<line x1="355.25" y1="381.7" x2="360.04" y2="381.7" stroke="#06a106" stroke-width="1.5"/>
<rect x="362.28" y="358.4" width="9.87" height="135" fill="#717000"/>
<line x1="366.92" y1="357.6" x2="366.92" y2="358.4" stroke="#717000" stroke-width="1.6"/>
<line x1="364.52" y1="358.3" x2="369.31" y2="358.3" stroke="#717000" stroke-width="1.5"/>
<rect x="371.55" y="419.7" width="9.87" height="73.7" fill="#0000a6"/>
<line x1="376.19" y1="417.7" x2="376.19" y2="419.7" stroke="#0000a6" stroke-width="1.6"/>
<line x1="373.79" y1="418.4" x2="378.58" y2="418.4" stroke="#0000a6" stroke-width="1.5"/>
<rect x="380.82" y="396.5" width="9.87" height="96.9" fill="#980000"/>
<line x1="385.45" y1="394.4" x2="385.45" y2="396.5" stroke="#980000" stroke-width="1.6"/>
<line x1="383.06" y1="395.1" x2="387.85" y2="395.1" stroke="#980000" stroke-width="1.5"/>
<rect x="390.09" y="366.7" width="9.87" height="126.7" fill="#69b9f9"/>
<line x1="394.73" y1="363.8" x2="394.73" y2="366.7" stroke="#69b9f9" stroke-width="1.6"/>
<line x1="392.33" y1="364.5" x2="397.12" y2="364.5" stroke="#69b9f9" stroke-width="1.5"/>
<rect x="399.36" y="361.7" width="9.27" height="131.7" fill="#647c73"/>
<line x1="404" y1="359" x2="404" y2="361.7" stroke="#647c73" stroke-width="1.6"/>
<line x1="401.6" y1="359.7" x2="406.39" y2="359.7" stroke="#647c73" stroke-width="1.5"/>
<rect x="415.9" y="446.3" width="9.87" height="47.1" fill="#000000"/>
<line x1="420.53" y1="442.2" x2="420.53" y2="446.3" stroke="#000000" stroke-width="1.6"/>
<line x1="418.13" y1="442.9" x2="422.93" y2="442.9" stroke="#000000" stroke-width="1.5"/>
<rect x="425.17" y="404.9" width="9.87" height="88.5" fill="#06a106"/>
<line x1="429.8" y1="401.9" x2="429.8" y2="404.9" stroke="#06a106" stroke-width="1.6"/>
<line x1="427.4" y1="402.6" x2="432.2" y2="402.6" stroke="#06a106" stroke-width="1.5"/>
<rect x="434.44" y="372.5" width="9.87" height="120.9" fill="#717000"/>
<line x1="439.07" y1="368.4" x2="439.07" y2="372.5" stroke="#717000" stroke-width="1.6"/>
<line x1="436.68" y1="369.1" x2="441.47" y2="369.1" stroke="#717000" stroke-width="1.5"/>
<rect x="443.71" y="444.8" width="9.87" height="48.6" fill="#0000a6"/>
<line x1="448.34" y1="441.9" x2="448.34" y2="444.8" stroke="#0000a6" stroke-width="1.6"/>
<line x1="445.94" y1="442.6" x2="450.74" y2="442.6" stroke="#0000a6" stroke-width="1.5"/>
<rect x="452.98" y="407.6" width="9.87" height="85.8" fill="#980000"/>
<line x1="457.61" y1="404.7" x2="457.61" y2="407.6" stroke="#980000" stroke-width="1.6"/>
<line x1="455.21" y1="405.4" x2="460.01" y2="405.4" stroke="#980000" stroke-width="1.5"/>
<rect x="462.25" y="374.1" width="9.87" height="119.3" fill="#69b9f9"/>
<line x1="466.88" y1="369.3" x2="466.88" y2="374.1" stroke="#69b9f9" stroke-width="1.6"/>
<line x1="464.49" y1="370" x2="469.28" y2="370" stroke="#69b9f9" stroke-width="1.5"/>
<rect x="471.52" y="397.1" width="9.27" height="96.3" fill="#647c73"/>
<line x1="476.15" y1="394.4" x2="476.15" y2="397.1" stroke="#647c73" stroke-width="1.6"/>
<line x1="473.75" y1="395.1" x2="478.55" y2="395.1" stroke="#647c73" stroke-width="1.5"/>
<line x1="51.6" y1="205.6" x2="51.6" y2="493.4" stroke="#000" stroke-width="3"/>
<line x1="46" y1="207.2" x2="51.6" y2="207.2" stroke="#000" stroke-width="2.6"/>
<line x1="46" y1="254.88" x2="51.6" y2="254.88" stroke="#000" stroke-width="2.6"/>
<line x1="46" y1="302.56" x2="51.6" y2="302.56" stroke="#000" stroke-width="2.6"/>
<line x1="46" y1="350.24" x2="51.6" y2="350.24" stroke="#000" stroke-width="2.6"/>
<line x1="46" y1="397.92" x2="51.6" y2="397.92" stroke="#000" stroke-width="2.6"/>
<line x1="46" y1="445.6" x2="51.6" y2="445.6" stroke="#000" stroke-width="2.6"/>
<line x1="46" y1="493.28" x2="51.6" y2="493.28" stroke="#000" stroke-width="2.6"/>
<line x1="46" y1="493.4" x2="484.5" y2="493.4" stroke="#000" stroke-width="3.2" stroke-linecap="round"/>
<line x1="87.55" y1="493.4" x2="87.55" y2="497.6" stroke="#000" stroke-width="2.8" stroke-linecap="round"/>
<line x1="159.7" y1="493.4" x2="159.7" y2="497.6" stroke="#000" stroke-width="2.8" stroke-linecap="round"/>
<line x1="231.86" y1="493.4" x2="231.86" y2="497.6" stroke="#000" stroke-width="2.8" stroke-linecap="round"/>
<line x1="304.02" y1="493.4" x2="304.02" y2="497.6" stroke="#000" stroke-width="2.8" stroke-linecap="round"/>
<line x1="376.19" y1="493.4" x2="376.19" y2="497.6" stroke="#000" stroke-width="2.8" stroke-linecap="round"/>
<line x1="448.34" y1="493.4" x2="448.34" y2="497.6" stroke="#000" stroke-width="2.8" stroke-linecap="round"/>
<g font-size="18">
<text x="43.4" y="213.4" text-anchor="end">11</text>
<text x="43.4" y="261.08" text-anchor="end">10</text>
<text x="43.4" y="308.76" text-anchor="end">9</text>
<text x="43.4" y="356.44" text-anchor="end">8</text>
<text x="43.4" y="404.12" text-anchor="end">7</text>
<text x="43.4" y="451.8" text-anchor="end">6</text>
<text x="43.4" y="499.48" text-anchor="end">5</text>
<text x="87.55" y="515.2" text-anchor="middle" font-size="19.6">I</text>
<text x="159.7" y="515.2" text-anchor="middle" font-size="19.6">H-IIa</text>
<text x="231.86" y="515.2" text-anchor="middle" font-size="19.6">R-IIa</text>
<text x="304.02" y="515.2" text-anchor="middle" font-size="19.6">IIb</text>
<text x="376.19" y="515.2" text-anchor="middle" font-size="19.6">V-IIIa</text>
<text x="448.34" y="515.2" text-anchor="middle" font-size="19.6">F-IIIa</text>
<text x="249.8" y="532.5" font-size="19">Fc<tspan font-family="Liberation Serif">&#947;</tspan>R</text>
<text transform="translate(24.6,374.4) rotate(-90)" font-size="19">log(<tspan font-style="italic">K</tspan><tspan font-size="13" dy="4">a</tspan><tspan dy="-4">)</tspan></text>
<rect x="167.7" y="248.3" width="22.2" height="15" fill="#717000"/>
<text x="191.7" y="261.5">S239D/I332E</text>
<rect x="307.7" y="248.3" width="22.2" height="15" fill="#69b9f9"/>
<text x="331.7" y="261.5">S239D/I332E/G236A</text>
<rect x="145.4" y="271.9" width="22.2" height="15" fill="#06a106"/>
<text x="169.4" y="285.1">I332E</text>
<rect x="285" y="271.9" width="22.2" height="15" fill="#980000"/>
<text x="309" y="285.1">I332E/G236A</text>
<rect x="126.5" y="296.1" width="22.2" height="15" fill="#000000"/>
<text x="150.5" y="309.3">IgG1</text>
<rect x="266.2" y="296.1" width="22.2" height="15" fill="#0000a6"/>
<text x="290.2" y="309.3">G236A</text>
<rect x="426.1" y="296" width="22.2" height="15" fill="#647c73"/>
<text x="450.1" y="309.2">fuc(-)</text>
</g>
</svg></body></html>
